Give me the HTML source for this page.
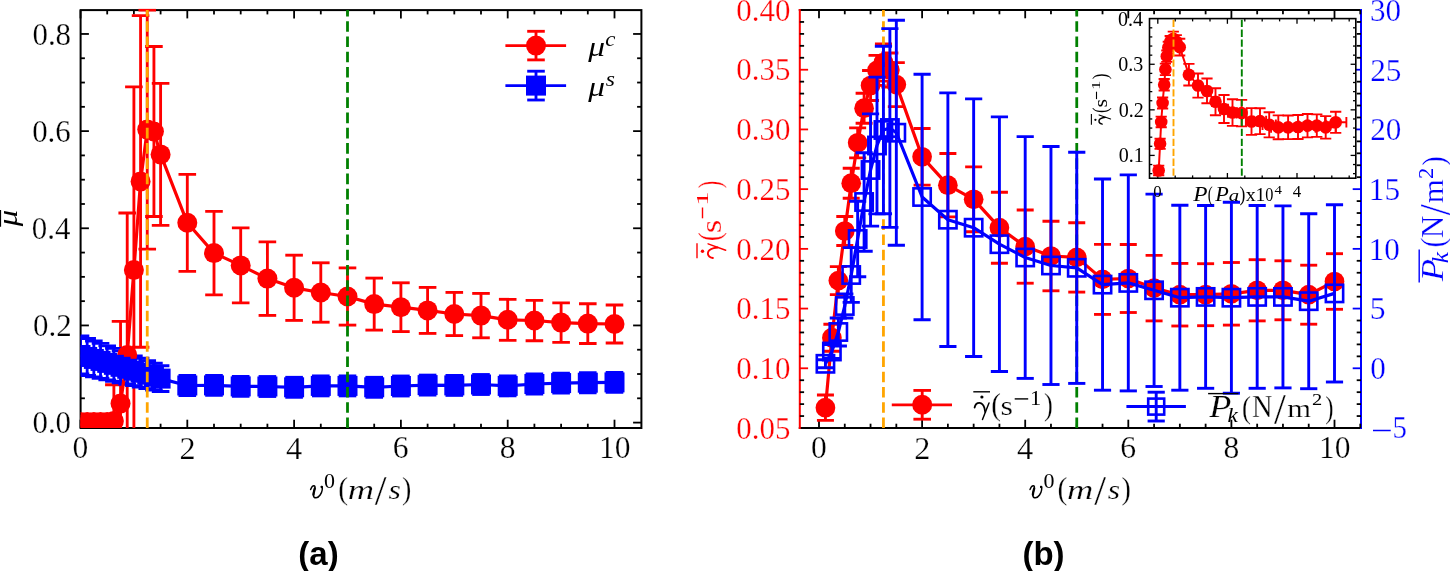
<!DOCTYPE html>
<html><head><meta charset="utf-8"><style>
html,body{margin:0;padding:0;background:#fff;width:1450px;height:571px;overflow:hidden;}
svg{display:block;will-change:transform;}
</style></head><body>
<svg width="1450" height="571" viewBox="0 0 1450 571">
<rect width="1450" height="571" fill="#fff"/>
<rect x="80.6" y="10.1" width="560.8" height="417.9" fill="none" stroke="#000000" stroke-width="2"/>
<line x1="80.5" y1="428" x2="80.5" y2="419.7" stroke="#000000" stroke-width="1.8" />
<line x1="80.5" y1="10.1" x2="80.5" y2="18.4" stroke="#000000" stroke-width="1.8" />
<line x1="107.2" y1="428" x2="107.2" y2="423.7" stroke="#000000" stroke-width="1.8" />
<line x1="107.2" y1="10.1" x2="107.2" y2="14.4" stroke="#000000" stroke-width="1.8" />
<line x1="133.9" y1="428" x2="133.9" y2="423.7" stroke="#000000" stroke-width="1.8" />
<line x1="133.9" y1="10.1" x2="133.9" y2="14.4" stroke="#000000" stroke-width="1.8" />
<line x1="160.6" y1="428" x2="160.6" y2="423.7" stroke="#000000" stroke-width="1.8" />
<line x1="160.6" y1="10.1" x2="160.6" y2="14.4" stroke="#000000" stroke-width="1.8" />
<line x1="187.3" y1="428" x2="187.3" y2="419.7" stroke="#000000" stroke-width="1.8" />
<line x1="187.3" y1="10.1" x2="187.3" y2="18.4" stroke="#000000" stroke-width="1.8" />
<line x1="214" y1="428" x2="214" y2="423.7" stroke="#000000" stroke-width="1.8" />
<line x1="214" y1="10.1" x2="214" y2="14.4" stroke="#000000" stroke-width="1.8" />
<line x1="240.7" y1="428" x2="240.7" y2="423.7" stroke="#000000" stroke-width="1.8" />
<line x1="240.7" y1="10.1" x2="240.7" y2="14.4" stroke="#000000" stroke-width="1.8" />
<line x1="267.4" y1="428" x2="267.4" y2="423.7" stroke="#000000" stroke-width="1.8" />
<line x1="267.4" y1="10.1" x2="267.4" y2="14.4" stroke="#000000" stroke-width="1.8" />
<line x1="294.1" y1="428" x2="294.1" y2="419.7" stroke="#000000" stroke-width="1.8" />
<line x1="294.1" y1="10.1" x2="294.1" y2="18.4" stroke="#000000" stroke-width="1.8" />
<line x1="320.8" y1="428" x2="320.8" y2="423.7" stroke="#000000" stroke-width="1.8" />
<line x1="320.8" y1="10.1" x2="320.8" y2="14.4" stroke="#000000" stroke-width="1.8" />
<line x1="347.5" y1="428" x2="347.5" y2="423.7" stroke="#000000" stroke-width="1.8" />
<line x1="347.5" y1="10.1" x2="347.5" y2="14.4" stroke="#000000" stroke-width="1.8" />
<line x1="374.2" y1="428" x2="374.2" y2="423.7" stroke="#000000" stroke-width="1.8" />
<line x1="374.2" y1="10.1" x2="374.2" y2="14.4" stroke="#000000" stroke-width="1.8" />
<line x1="400.9" y1="428" x2="400.9" y2="419.7" stroke="#000000" stroke-width="1.8" />
<line x1="400.9" y1="10.1" x2="400.9" y2="18.4" stroke="#000000" stroke-width="1.8" />
<line x1="427.6" y1="428" x2="427.6" y2="423.7" stroke="#000000" stroke-width="1.8" />
<line x1="427.6" y1="10.1" x2="427.6" y2="14.4" stroke="#000000" stroke-width="1.8" />
<line x1="454.3" y1="428" x2="454.3" y2="423.7" stroke="#000000" stroke-width="1.8" />
<line x1="454.3" y1="10.1" x2="454.3" y2="14.4" stroke="#000000" stroke-width="1.8" />
<line x1="481" y1="428" x2="481" y2="423.7" stroke="#000000" stroke-width="1.8" />
<line x1="481" y1="10.1" x2="481" y2="14.4" stroke="#000000" stroke-width="1.8" />
<line x1="507.7" y1="428" x2="507.7" y2="419.7" stroke="#000000" stroke-width="1.8" />
<line x1="507.7" y1="10.1" x2="507.7" y2="18.4" stroke="#000000" stroke-width="1.8" />
<line x1="534.4" y1="428" x2="534.4" y2="423.7" stroke="#000000" stroke-width="1.8" />
<line x1="534.4" y1="10.1" x2="534.4" y2="14.4" stroke="#000000" stroke-width="1.8" />
<line x1="561.1" y1="428" x2="561.1" y2="423.7" stroke="#000000" stroke-width="1.8" />
<line x1="561.1" y1="10.1" x2="561.1" y2="14.4" stroke="#000000" stroke-width="1.8" />
<line x1="587.8" y1="428" x2="587.8" y2="423.7" stroke="#000000" stroke-width="1.8" />
<line x1="587.8" y1="10.1" x2="587.8" y2="14.4" stroke="#000000" stroke-width="1.8" />
<line x1="614.5" y1="428" x2="614.5" y2="419.7" stroke="#000000" stroke-width="1.8" />
<line x1="614.5" y1="10.1" x2="614.5" y2="18.4" stroke="#000000" stroke-width="1.8" />
<line x1="80.6" y1="422.6" x2="88.9" y2="422.6" stroke="#000000" stroke-width="1.8" />
<line x1="641.4" y1="422.6" x2="633.1" y2="422.6" stroke="#000000" stroke-width="1.8" />
<line x1="80.6" y1="398.31" x2="84.9" y2="398.31" stroke="#000000" stroke-width="1.8" />
<line x1="641.4" y1="398.31" x2="637.1" y2="398.31" stroke="#000000" stroke-width="1.8" />
<line x1="80.6" y1="374.02" x2="84.9" y2="374.02" stroke="#000000" stroke-width="1.8" />
<line x1="641.4" y1="374.02" x2="637.1" y2="374.02" stroke="#000000" stroke-width="1.8" />
<line x1="80.6" y1="349.73" x2="84.9" y2="349.73" stroke="#000000" stroke-width="1.8" />
<line x1="641.4" y1="349.73" x2="637.1" y2="349.73" stroke="#000000" stroke-width="1.8" />
<line x1="80.6" y1="325.44" x2="88.9" y2="325.44" stroke="#000000" stroke-width="1.8" />
<line x1="641.4" y1="325.44" x2="633.1" y2="325.44" stroke="#000000" stroke-width="1.8" />
<line x1="80.6" y1="301.15" x2="84.9" y2="301.15" stroke="#000000" stroke-width="1.8" />
<line x1="641.4" y1="301.15" x2="637.1" y2="301.15" stroke="#000000" stroke-width="1.8" />
<line x1="80.6" y1="276.86" x2="84.9" y2="276.86" stroke="#000000" stroke-width="1.8" />
<line x1="641.4" y1="276.86" x2="637.1" y2="276.86" stroke="#000000" stroke-width="1.8" />
<line x1="80.6" y1="252.57" x2="84.9" y2="252.57" stroke="#000000" stroke-width="1.8" />
<line x1="641.4" y1="252.57" x2="637.1" y2="252.57" stroke="#000000" stroke-width="1.8" />
<line x1="80.6" y1="228.28" x2="88.9" y2="228.28" stroke="#000000" stroke-width="1.8" />
<line x1="641.4" y1="228.28" x2="633.1" y2="228.28" stroke="#000000" stroke-width="1.8" />
<line x1="80.6" y1="203.99" x2="84.9" y2="203.99" stroke="#000000" stroke-width="1.8" />
<line x1="641.4" y1="203.99" x2="637.1" y2="203.99" stroke="#000000" stroke-width="1.8" />
<line x1="80.6" y1="179.7" x2="84.9" y2="179.7" stroke="#000000" stroke-width="1.8" />
<line x1="641.4" y1="179.7" x2="637.1" y2="179.7" stroke="#000000" stroke-width="1.8" />
<line x1="80.6" y1="155.41" x2="84.9" y2="155.41" stroke="#000000" stroke-width="1.8" />
<line x1="641.4" y1="155.41" x2="637.1" y2="155.41" stroke="#000000" stroke-width="1.8" />
<line x1="80.6" y1="131.12" x2="88.9" y2="131.12" stroke="#000000" stroke-width="1.8" />
<line x1="641.4" y1="131.12" x2="633.1" y2="131.12" stroke="#000000" stroke-width="1.8" />
<line x1="80.6" y1="106.83" x2="84.9" y2="106.83" stroke="#000000" stroke-width="1.8" />
<line x1="641.4" y1="106.83" x2="637.1" y2="106.83" stroke="#000000" stroke-width="1.8" />
<line x1="80.6" y1="82.54" x2="84.9" y2="82.54" stroke="#000000" stroke-width="1.8" />
<line x1="641.4" y1="82.54" x2="637.1" y2="82.54" stroke="#000000" stroke-width="1.8" />
<line x1="80.6" y1="58.25" x2="84.9" y2="58.25" stroke="#000000" stroke-width="1.8" />
<line x1="641.4" y1="58.25" x2="637.1" y2="58.25" stroke="#000000" stroke-width="1.8" />
<line x1="80.6" y1="33.96" x2="88.9" y2="33.96" stroke="#000000" stroke-width="1.8" />
<line x1="641.4" y1="33.96" x2="633.1" y2="33.96" stroke="#000000" stroke-width="1.8" />
<clipPath id="ca"><rect x="80.6" y="8.6" width="560.8" height="419.4"/></clipPath>
<g clip-path="url(#ca)">
<line x1="80.5" y1="419" x2="80.5" y2="425" stroke="#ff0000" stroke-width="2.85" />
<line x1="71.7" y1="419" x2="89.3" y2="419" stroke="#ff0000" stroke-width="2.85" />
<line x1="71.7" y1="425" x2="89.3" y2="425" stroke="#ff0000" stroke-width="2.85" />
<line x1="87.17" y1="419" x2="87.17" y2="425" stroke="#ff0000" stroke-width="2.85" />
<line x1="78.38" y1="419" x2="95.97" y2="419" stroke="#ff0000" stroke-width="2.85" />
<line x1="78.38" y1="425" x2="95.97" y2="425" stroke="#ff0000" stroke-width="2.85" />
<line x1="93.85" y1="419" x2="93.85" y2="425" stroke="#ff0000" stroke-width="2.85" />
<line x1="85.05" y1="419" x2="102.65" y2="419" stroke="#ff0000" stroke-width="2.85" />
<line x1="85.05" y1="425" x2="102.65" y2="425" stroke="#ff0000" stroke-width="2.85" />
<line x1="100.53" y1="419" x2="100.53" y2="425" stroke="#ff0000" stroke-width="2.85" />
<line x1="91.73" y1="419" x2="109.33" y2="419" stroke="#ff0000" stroke-width="2.85" />
<line x1="91.73" y1="425" x2="109.33" y2="425" stroke="#ff0000" stroke-width="2.85" />
<line x1="107.2" y1="419" x2="107.2" y2="425" stroke="#ff0000" stroke-width="2.85" />
<line x1="98.4" y1="419" x2="116" y2="419" stroke="#ff0000" stroke-width="2.85" />
<line x1="98.4" y1="425" x2="116" y2="425" stroke="#ff0000" stroke-width="2.85" />
<line x1="113.88" y1="384.7" x2="113.88" y2="457.3" stroke="#ff0000" stroke-width="2.85" />
<line x1="105.08" y1="384.7" x2="122.67" y2="384.7" stroke="#ff0000" stroke-width="2.85" />
<line x1="105.08" y1="457.3" x2="122.67" y2="457.3" stroke="#ff0000" stroke-width="2.85" />
<line x1="120.55" y1="321.3" x2="120.55" y2="485.7" stroke="#ff0000" stroke-width="2.85" />
<line x1="111.75" y1="321.3" x2="129.35" y2="321.3" stroke="#ff0000" stroke-width="2.85" />
<line x1="111.75" y1="485.7" x2="129.35" y2="485.7" stroke="#ff0000" stroke-width="2.85" />
<line x1="127.22" y1="213" x2="127.22" y2="497" stroke="#ff0000" stroke-width="2.85" />
<line x1="118.42" y1="213" x2="136.03" y2="213" stroke="#ff0000" stroke-width="2.85" />
<line x1="118.42" y1="497" x2="136.03" y2="497" stroke="#ff0000" stroke-width="2.85" />
<line x1="133.9" y1="86.9" x2="133.9" y2="453.1" stroke="#ff0000" stroke-width="2.85" />
<line x1="125.1" y1="86.9" x2="142.7" y2="86.9" stroke="#ff0000" stroke-width="2.85" />
<line x1="125.1" y1="453.1" x2="142.7" y2="453.1" stroke="#ff0000" stroke-width="2.85" />
<line x1="140.57" y1="15.6" x2="140.57" y2="347.2" stroke="#ff0000" stroke-width="2.85" />
<line x1="131.77" y1="15.6" x2="149.38" y2="15.6" stroke="#ff0000" stroke-width="2.85" />
<line x1="131.77" y1="347.2" x2="149.38" y2="347.2" stroke="#ff0000" stroke-width="2.85" />
<line x1="147.25" y1="10.1" x2="147.25" y2="249.1" stroke="#ff0000" stroke-width="2.85" />
<line x1="138.45" y1="10.1" x2="156.05" y2="10.1" stroke="#ff0000" stroke-width="2.85" />
<line x1="138.45" y1="249.1" x2="156.05" y2="249.1" stroke="#ff0000" stroke-width="2.85" />
<line x1="153.93" y1="46.5" x2="153.93" y2="216.5" stroke="#ff0000" stroke-width="2.85" />
<line x1="145.12" y1="46.5" x2="162.73" y2="46.5" stroke="#ff0000" stroke-width="2.85" />
<line x1="145.12" y1="216.5" x2="162.73" y2="216.5" stroke="#ff0000" stroke-width="2.85" />
<line x1="160.6" y1="83.4" x2="160.6" y2="225.4" stroke="#ff0000" stroke-width="2.85" />
<line x1="151.8" y1="83.4" x2="169.4" y2="83.4" stroke="#ff0000" stroke-width="2.85" />
<line x1="151.8" y1="225.4" x2="169.4" y2="225.4" stroke="#ff0000" stroke-width="2.85" />
<line x1="187.3" y1="174.3" x2="187.3" y2="271.3" stroke="#ff0000" stroke-width="2.85" />
<line x1="178.5" y1="174.3" x2="196.1" y2="174.3" stroke="#ff0000" stroke-width="2.85" />
<line x1="178.5" y1="271.3" x2="196.1" y2="271.3" stroke="#ff0000" stroke-width="2.85" />
<line x1="214" y1="211.4" x2="214" y2="294.8" stroke="#ff0000" stroke-width="2.85" />
<line x1="205.2" y1="211.4" x2="222.8" y2="211.4" stroke="#ff0000" stroke-width="2.85" />
<line x1="205.2" y1="294.8" x2="222.8" y2="294.8" stroke="#ff0000" stroke-width="2.85" />
<line x1="240.7" y1="227.9" x2="240.7" y2="302.9" stroke="#ff0000" stroke-width="2.85" />
<line x1="231.9" y1="227.9" x2="249.5" y2="227.9" stroke="#ff0000" stroke-width="2.85" />
<line x1="231.9" y1="302.9" x2="249.5" y2="302.9" stroke="#ff0000" stroke-width="2.85" />
<line x1="267.4" y1="241.8" x2="267.4" y2="315.4" stroke="#ff0000" stroke-width="2.85" />
<line x1="258.6" y1="241.8" x2="276.2" y2="241.8" stroke="#ff0000" stroke-width="2.85" />
<line x1="258.6" y1="315.4" x2="276.2" y2="315.4" stroke="#ff0000" stroke-width="2.85" />
<line x1="294.1" y1="255.2" x2="294.1" y2="320.4" stroke="#ff0000" stroke-width="2.85" />
<line x1="285.3" y1="255.2" x2="302.9" y2="255.2" stroke="#ff0000" stroke-width="2.85" />
<line x1="285.3" y1="320.4" x2="302.9" y2="320.4" stroke="#ff0000" stroke-width="2.85" />
<line x1="320.8" y1="262.8" x2="320.8" y2="322.2" stroke="#ff0000" stroke-width="2.85" />
<line x1="312" y1="262.8" x2="329.6" y2="262.8" stroke="#ff0000" stroke-width="2.85" />
<line x1="312" y1="322.2" x2="329.6" y2="322.2" stroke="#ff0000" stroke-width="2.85" />
<line x1="347.5" y1="267.9" x2="347.5" y2="325.1" stroke="#ff0000" stroke-width="2.85" />
<line x1="338.7" y1="267.9" x2="356.3" y2="267.9" stroke="#ff0000" stroke-width="2.85" />
<line x1="338.7" y1="325.1" x2="356.3" y2="325.1" stroke="#ff0000" stroke-width="2.85" />
<line x1="374.2" y1="278.1" x2="374.2" y2="330.1" stroke="#ff0000" stroke-width="2.85" />
<line x1="365.4" y1="278.1" x2="383" y2="278.1" stroke="#ff0000" stroke-width="2.85" />
<line x1="365.4" y1="330.1" x2="383" y2="330.1" stroke="#ff0000" stroke-width="2.85" />
<line x1="400.9" y1="282.8" x2="400.9" y2="331.6" stroke="#ff0000" stroke-width="2.85" />
<line x1="392.1" y1="282.8" x2="409.7" y2="282.8" stroke="#ff0000" stroke-width="2.85" />
<line x1="392.1" y1="331.6" x2="409.7" y2="331.6" stroke="#ff0000" stroke-width="2.85" />
<line x1="427.6" y1="287.4" x2="427.6" y2="333.4" stroke="#ff0000" stroke-width="2.85" />
<line x1="418.8" y1="287.4" x2="436.4" y2="287.4" stroke="#ff0000" stroke-width="2.85" />
<line x1="418.8" y1="333.4" x2="436.4" y2="333.4" stroke="#ff0000" stroke-width="2.85" />
<line x1="454.3" y1="292.4" x2="454.3" y2="335.6" stroke="#ff0000" stroke-width="2.85" />
<line x1="445.5" y1="292.4" x2="463.1" y2="292.4" stroke="#ff0000" stroke-width="2.85" />
<line x1="445.5" y1="335.6" x2="463.1" y2="335.6" stroke="#ff0000" stroke-width="2.85" />
<line x1="481" y1="293.4" x2="481" y2="337.8" stroke="#ff0000" stroke-width="2.85" />
<line x1="472.2" y1="293.4" x2="489.8" y2="293.4" stroke="#ff0000" stroke-width="2.85" />
<line x1="472.2" y1="337.8" x2="489.8" y2="337.8" stroke="#ff0000" stroke-width="2.85" />
<line x1="507.7" y1="299.3" x2="507.7" y2="340.3" stroke="#ff0000" stroke-width="2.85" />
<line x1="498.9" y1="299.3" x2="516.5" y2="299.3" stroke="#ff0000" stroke-width="2.85" />
<line x1="498.9" y1="340.3" x2="516.5" y2="340.3" stroke="#ff0000" stroke-width="2.85" />
<line x1="534.4" y1="300.3" x2="534.4" y2="340.7" stroke="#ff0000" stroke-width="2.85" />
<line x1="525.6" y1="300.3" x2="543.2" y2="300.3" stroke="#ff0000" stroke-width="2.85" />
<line x1="525.6" y1="340.7" x2="543.2" y2="340.7" stroke="#ff0000" stroke-width="2.85" />
<line x1="561.1" y1="302.9" x2="561.1" y2="342.3" stroke="#ff0000" stroke-width="2.85" />
<line x1="552.3" y1="302.9" x2="569.9" y2="302.9" stroke="#ff0000" stroke-width="2.85" />
<line x1="552.3" y1="342.3" x2="569.9" y2="342.3" stroke="#ff0000" stroke-width="2.85" />
<line x1="587.8" y1="303.7" x2="587.8" y2="343.5" stroke="#ff0000" stroke-width="2.85" />
<line x1="579" y1="303.7" x2="596.6" y2="303.7" stroke="#ff0000" stroke-width="2.85" />
<line x1="579" y1="343.5" x2="596.6" y2="343.5" stroke="#ff0000" stroke-width="2.85" />
<line x1="614.5" y1="305" x2="614.5" y2="343" stroke="#ff0000" stroke-width="2.85" />
<line x1="605.7" y1="305" x2="623.3" y2="305" stroke="#ff0000" stroke-width="2.85" />
<line x1="605.7" y1="343" x2="623.3" y2="343" stroke="#ff0000" stroke-width="2.85" />
<line x1="80.5" y1="336" x2="80.5" y2="374" stroke="#0000ff" stroke-width="2.85" />
<line x1="71.7" y1="336" x2="89.3" y2="336" stroke="#0000ff" stroke-width="2.85" />
<line x1="71.7" y1="374" x2="89.3" y2="374" stroke="#0000ff" stroke-width="2.85" />
<line x1="87.17" y1="338.48" x2="87.17" y2="375.46" stroke="#0000ff" stroke-width="2.85" />
<line x1="78.38" y1="338.48" x2="95.97" y2="338.48" stroke="#0000ff" stroke-width="2.85" />
<line x1="78.38" y1="375.46" x2="95.97" y2="375.46" stroke="#0000ff" stroke-width="2.85" />
<line x1="93.85" y1="340.95" x2="93.85" y2="376.92" stroke="#0000ff" stroke-width="2.85" />
<line x1="85.05" y1="340.95" x2="102.65" y2="340.95" stroke="#0000ff" stroke-width="2.85" />
<line x1="85.05" y1="376.92" x2="102.65" y2="376.92" stroke="#0000ff" stroke-width="2.85" />
<line x1="100.53" y1="343.42" x2="100.53" y2="378.38" stroke="#0000ff" stroke-width="2.85" />
<line x1="91.73" y1="343.42" x2="109.33" y2="343.42" stroke="#0000ff" stroke-width="2.85" />
<line x1="91.73" y1="378.38" x2="109.33" y2="378.38" stroke="#0000ff" stroke-width="2.85" />
<line x1="107.2" y1="345.9" x2="107.2" y2="379.83" stroke="#0000ff" stroke-width="2.85" />
<line x1="98.4" y1="345.9" x2="116" y2="345.9" stroke="#0000ff" stroke-width="2.85" />
<line x1="98.4" y1="379.83" x2="116" y2="379.83" stroke="#0000ff" stroke-width="2.85" />
<line x1="113.88" y1="348.38" x2="113.88" y2="381.29" stroke="#0000ff" stroke-width="2.85" />
<line x1="105.08" y1="348.38" x2="122.67" y2="348.38" stroke="#0000ff" stroke-width="2.85" />
<line x1="105.08" y1="381.29" x2="122.67" y2="381.29" stroke="#0000ff" stroke-width="2.85" />
<line x1="120.55" y1="350.85" x2="120.55" y2="382.75" stroke="#0000ff" stroke-width="2.85" />
<line x1="111.75" y1="350.85" x2="129.35" y2="350.85" stroke="#0000ff" stroke-width="2.85" />
<line x1="111.75" y1="382.75" x2="129.35" y2="382.75" stroke="#0000ff" stroke-width="2.85" />
<line x1="127.22" y1="353.32" x2="127.22" y2="384.21" stroke="#0000ff" stroke-width="2.85" />
<line x1="118.42" y1="353.32" x2="136.03" y2="353.32" stroke="#0000ff" stroke-width="2.85" />
<line x1="118.42" y1="384.21" x2="136.03" y2="384.21" stroke="#0000ff" stroke-width="2.85" />
<line x1="133.9" y1="355.8" x2="133.9" y2="385.67" stroke="#0000ff" stroke-width="2.85" />
<line x1="125.1" y1="355.8" x2="142.7" y2="355.8" stroke="#0000ff" stroke-width="2.85" />
<line x1="125.1" y1="385.67" x2="142.7" y2="385.67" stroke="#0000ff" stroke-width="2.85" />
<line x1="140.57" y1="358.28" x2="140.57" y2="387.13" stroke="#0000ff" stroke-width="2.85" />
<line x1="131.77" y1="358.28" x2="149.38" y2="358.28" stroke="#0000ff" stroke-width="2.85" />
<line x1="131.77" y1="387.13" x2="149.38" y2="387.13" stroke="#0000ff" stroke-width="2.85" />
<line x1="147.25" y1="360.75" x2="147.25" y2="388.58" stroke="#0000ff" stroke-width="2.85" />
<line x1="138.45" y1="360.75" x2="156.05" y2="360.75" stroke="#0000ff" stroke-width="2.85" />
<line x1="138.45" y1="388.58" x2="156.05" y2="388.58" stroke="#0000ff" stroke-width="2.85" />
<line x1="153.93" y1="363.22" x2="153.93" y2="390.04" stroke="#0000ff" stroke-width="2.85" />
<line x1="145.12" y1="363.22" x2="162.73" y2="363.22" stroke="#0000ff" stroke-width="2.85" />
<line x1="145.12" y1="390.04" x2="162.73" y2="390.04" stroke="#0000ff" stroke-width="2.85" />
<line x1="160.6" y1="365.7" x2="160.6" y2="391.5" stroke="#0000ff" stroke-width="2.85" />
<line x1="151.8" y1="365.7" x2="169.4" y2="365.7" stroke="#0000ff" stroke-width="2.85" />
<line x1="151.8" y1="391.5" x2="169.4" y2="391.5" stroke="#0000ff" stroke-width="2.85" />
<line x1="187.3" y1="375.5" x2="187.3" y2="395.5" stroke="#0000ff" stroke-width="2.85" />
<line x1="178.5" y1="375.5" x2="196.1" y2="375.5" stroke="#0000ff" stroke-width="2.85" />
<line x1="178.5" y1="395.5" x2="196.1" y2="395.5" stroke="#0000ff" stroke-width="2.85" />
<line x1="214" y1="375.4" x2="214" y2="395.4" stroke="#0000ff" stroke-width="2.85" />
<line x1="205.2" y1="375.4" x2="222.8" y2="375.4" stroke="#0000ff" stroke-width="2.85" />
<line x1="205.2" y1="395.4" x2="222.8" y2="395.4" stroke="#0000ff" stroke-width="2.85" />
<line x1="240.7" y1="376.4" x2="240.7" y2="396.4" stroke="#0000ff" stroke-width="2.85" />
<line x1="231.9" y1="376.4" x2="249.5" y2="376.4" stroke="#0000ff" stroke-width="2.85" />
<line x1="231.9" y1="396.4" x2="249.5" y2="396.4" stroke="#0000ff" stroke-width="2.85" />
<line x1="267.4" y1="376.5" x2="267.4" y2="396.5" stroke="#0000ff" stroke-width="2.85" />
<line x1="258.6" y1="376.5" x2="276.2" y2="376.5" stroke="#0000ff" stroke-width="2.85" />
<line x1="258.6" y1="396.5" x2="276.2" y2="396.5" stroke="#0000ff" stroke-width="2.85" />
<line x1="294.1" y1="377.3" x2="294.1" y2="397.3" stroke="#0000ff" stroke-width="2.85" />
<line x1="285.3" y1="377.3" x2="302.9" y2="377.3" stroke="#0000ff" stroke-width="2.85" />
<line x1="285.3" y1="397.3" x2="302.9" y2="397.3" stroke="#0000ff" stroke-width="2.85" />
<line x1="320.8" y1="375.9" x2="320.8" y2="395.9" stroke="#0000ff" stroke-width="2.85" />
<line x1="312" y1="375.9" x2="329.6" y2="375.9" stroke="#0000ff" stroke-width="2.85" />
<line x1="312" y1="395.9" x2="329.6" y2="395.9" stroke="#0000ff" stroke-width="2.85" />
<line x1="347.5" y1="375.9" x2="347.5" y2="395.9" stroke="#0000ff" stroke-width="2.85" />
<line x1="338.7" y1="375.9" x2="356.3" y2="375.9" stroke="#0000ff" stroke-width="2.85" />
<line x1="338.7" y1="395.9" x2="356.3" y2="395.9" stroke="#0000ff" stroke-width="2.85" />
<line x1="374.2" y1="377.3" x2="374.2" y2="397.3" stroke="#0000ff" stroke-width="2.85" />
<line x1="365.4" y1="377.3" x2="383" y2="377.3" stroke="#0000ff" stroke-width="2.85" />
<line x1="365.4" y1="397.3" x2="383" y2="397.3" stroke="#0000ff" stroke-width="2.85" />
<line x1="400.9" y1="376" x2="400.9" y2="396" stroke="#0000ff" stroke-width="2.85" />
<line x1="392.1" y1="376" x2="409.7" y2="376" stroke="#0000ff" stroke-width="2.85" />
<line x1="392.1" y1="396" x2="409.7" y2="396" stroke="#0000ff" stroke-width="2.85" />
<line x1="427.6" y1="375.1" x2="427.6" y2="395.1" stroke="#0000ff" stroke-width="2.85" />
<line x1="418.8" y1="375.1" x2="436.4" y2="375.1" stroke="#0000ff" stroke-width="2.85" />
<line x1="418.8" y1="395.1" x2="436.4" y2="395.1" stroke="#0000ff" stroke-width="2.85" />
<line x1="454.3" y1="375.4" x2="454.3" y2="395.4" stroke="#0000ff" stroke-width="2.85" />
<line x1="445.5" y1="375.4" x2="463.1" y2="375.4" stroke="#0000ff" stroke-width="2.85" />
<line x1="445.5" y1="395.4" x2="463.1" y2="395.4" stroke="#0000ff" stroke-width="2.85" />
<line x1="481" y1="374.5" x2="481" y2="394.5" stroke="#0000ff" stroke-width="2.85" />
<line x1="472.2" y1="374.5" x2="489.8" y2="374.5" stroke="#0000ff" stroke-width="2.85" />
<line x1="472.2" y1="394.5" x2="489.8" y2="394.5" stroke="#0000ff" stroke-width="2.85" />
<line x1="507.7" y1="375.9" x2="507.7" y2="395.9" stroke="#0000ff" stroke-width="2.85" />
<line x1="498.9" y1="375.9" x2="516.5" y2="375.9" stroke="#0000ff" stroke-width="2.85" />
<line x1="498.9" y1="395.9" x2="516.5" y2="395.9" stroke="#0000ff" stroke-width="2.85" />
<line x1="534.4" y1="374" x2="534.4" y2="394" stroke="#0000ff" stroke-width="2.85" />
<line x1="525.6" y1="374" x2="543.2" y2="374" stroke="#0000ff" stroke-width="2.85" />
<line x1="525.6" y1="394" x2="543.2" y2="394" stroke="#0000ff" stroke-width="2.85" />
<line x1="561.1" y1="373.1" x2="561.1" y2="393.1" stroke="#0000ff" stroke-width="2.85" />
<line x1="552.3" y1="373.1" x2="569.9" y2="373.1" stroke="#0000ff" stroke-width="2.85" />
<line x1="552.3" y1="393.1" x2="569.9" y2="393.1" stroke="#0000ff" stroke-width="2.85" />
<line x1="587.8" y1="372.7" x2="587.8" y2="392.7" stroke="#0000ff" stroke-width="2.85" />
<line x1="579" y1="372.7" x2="596.6" y2="372.7" stroke="#0000ff" stroke-width="2.85" />
<line x1="579" y1="392.7" x2="596.6" y2="392.7" stroke="#0000ff" stroke-width="2.85" />
<line x1="614.5" y1="372.4" x2="614.5" y2="392.4" stroke="#0000ff" stroke-width="2.85" />
<line x1="605.7" y1="372.4" x2="623.3" y2="372.4" stroke="#0000ff" stroke-width="2.85" />
<line x1="605.7" y1="392.4" x2="623.3" y2="392.4" stroke="#0000ff" stroke-width="2.85" />
<polyline points="80.5,422 87.17,422 93.85,422 100.53,422 107.2,422 113.88,421 120.55,403.5 127.22,355 133.9,270 140.57,181.4 147.25,129.6 153.93,131.5 160.6,154.4 187.3,222.8 214,253.1 240.7,265.4 267.4,278.6 294.1,287.8 320.8,292.5 347.5,296.5 374.2,304.1 400.9,307.2 427.6,310.4 454.3,314 481,315.6 507.7,319.8 534.4,320.5 561.1,322.6 587.8,323.6 614.5,324" fill="none" stroke="#ff0000" stroke-width="3.2" stroke-linejoin="round" />
<circle cx="80.5" cy="422" r="10" fill="#ff0000"/>
<circle cx="87.17" cy="422" r="10" fill="#ff0000"/>
<circle cx="93.85" cy="422" r="10" fill="#ff0000"/>
<circle cx="100.53" cy="422" r="10" fill="#ff0000"/>
<circle cx="107.2" cy="422" r="10" fill="#ff0000"/>
<circle cx="113.88" cy="421" r="10" fill="#ff0000"/>
<circle cx="120.55" cy="403.5" r="10" fill="#ff0000"/>
<circle cx="127.22" cy="355" r="10" fill="#ff0000"/>
<circle cx="133.9" cy="270" r="10" fill="#ff0000"/>
<circle cx="140.57" cy="181.4" r="10" fill="#ff0000"/>
<circle cx="147.25" cy="129.6" r="10" fill="#ff0000"/>
<circle cx="153.93" cy="131.5" r="10" fill="#ff0000"/>
<circle cx="160.6" cy="154.4" r="10" fill="#ff0000"/>
<circle cx="187.3" cy="222.8" r="10" fill="#ff0000"/>
<circle cx="214" cy="253.1" r="10" fill="#ff0000"/>
<circle cx="240.7" cy="265.4" r="10" fill="#ff0000"/>
<circle cx="267.4" cy="278.6" r="10" fill="#ff0000"/>
<circle cx="294.1" cy="287.8" r="10" fill="#ff0000"/>
<circle cx="320.8" cy="292.5" r="10" fill="#ff0000"/>
<circle cx="347.5" cy="296.5" r="10" fill="#ff0000"/>
<circle cx="374.2" cy="304.1" r="10" fill="#ff0000"/>
<circle cx="400.9" cy="307.2" r="10" fill="#ff0000"/>
<circle cx="427.6" cy="310.4" r="10" fill="#ff0000"/>
<circle cx="454.3" cy="314" r="10" fill="#ff0000"/>
<circle cx="481" cy="315.6" r="10" fill="#ff0000"/>
<circle cx="507.7" cy="319.8" r="10" fill="#ff0000"/>
<circle cx="534.4" cy="320.5" r="10" fill="#ff0000"/>
<circle cx="561.1" cy="322.6" r="10" fill="#ff0000"/>
<circle cx="587.8" cy="323.6" r="10" fill="#ff0000"/>
<circle cx="614.5" cy="324" r="10" fill="#ff0000"/>
<polyline points="80.5,355 87.17,356.97 93.85,358.93 100.53,360.9 107.2,362.87 113.88,364.83 120.55,366.8 127.22,368.77 133.9,370.73 140.57,372.7 147.25,374.67 153.93,376.63 160.6,378.6 187.3,385.5 214,385.4 240.7,386.4 267.4,386.5 294.1,387.3 320.8,385.9 347.5,385.9 374.2,387.3 400.9,386 427.6,385.1 454.3,385.4 481,384.5 507.7,385.9 534.4,384 561.1,383.1 587.8,382.7 614.5,382.4" fill="none" stroke="#0000ff" stroke-width="3.2" stroke-linejoin="round" />
<rect x="70.5" y="345" width="20" height="20" fill="#0000ff"/>
<rect x="77.17" y="346.97" width="20" height="20" fill="#0000ff"/>
<rect x="83.85" y="348.93" width="20" height="20" fill="#0000ff"/>
<rect x="90.53" y="350.9" width="20" height="20" fill="#0000ff"/>
<rect x="97.2" y="352.87" width="20" height="20" fill="#0000ff"/>
<rect x="103.88" y="354.83" width="20" height="20" fill="#0000ff"/>
<rect x="110.55" y="356.8" width="20" height="20" fill="#0000ff"/>
<rect x="117.22" y="358.77" width="20" height="20" fill="#0000ff"/>
<rect x="123.9" y="360.73" width="20" height="20" fill="#0000ff"/>
<rect x="130.57" y="362.7" width="20" height="20" fill="#0000ff"/>
<rect x="137.25" y="364.67" width="20" height="20" fill="#0000ff"/>
<rect x="143.93" y="366.63" width="20" height="20" fill="#0000ff"/>
<rect x="150.6" y="368.6" width="20" height="20" fill="#0000ff"/>
<rect x="177.3" y="375.5" width="20" height="20" fill="#0000ff"/>
<rect x="204" y="375.4" width="20" height="20" fill="#0000ff"/>
<rect x="230.7" y="376.4" width="20" height="20" fill="#0000ff"/>
<rect x="257.4" y="376.5" width="20" height="20" fill="#0000ff"/>
<rect x="284.1" y="377.3" width="20" height="20" fill="#0000ff"/>
<rect x="310.8" y="375.9" width="20" height="20" fill="#0000ff"/>
<rect x="337.5" y="375.9" width="20" height="20" fill="#0000ff"/>
<rect x="364.2" y="377.3" width="20" height="20" fill="#0000ff"/>
<rect x="390.9" y="376" width="20" height="20" fill="#0000ff"/>
<rect x="417.6" y="375.1" width="20" height="20" fill="#0000ff"/>
<rect x="444.3" y="375.4" width="20" height="20" fill="#0000ff"/>
<rect x="471" y="374.5" width="20" height="20" fill="#0000ff"/>
<rect x="497.7" y="375.9" width="20" height="20" fill="#0000ff"/>
<rect x="524.4" y="374" width="20" height="20" fill="#0000ff"/>
<rect x="551.1" y="373.1" width="20" height="20" fill="#0000ff"/>
<rect x="577.8" y="372.7" width="20" height="20" fill="#0000ff"/>
<rect x="604.5" y="372.4" width="20" height="20" fill="#0000ff"/>
</g>
<clipPath id="ca2"><rect x="80.6" y="10.1" width="560.8" height="417.9"/></clipPath>
<g clip-path="url(#ca2)">
<line x1="147.25" y1="428" x2="147.25" y2="10.1" stroke="#ffa500" stroke-width="2.8" stroke-dasharray="10.6 4.64"/>
<line x1="347.5" y1="428" x2="347.5" y2="10.1" stroke="#008000" stroke-width="2.8" stroke-dasharray="10.6 4.64"/>
</g>
<text x="72.61" y="458.49" font-family="Liberation Serif, serif" font-style="normal" font-weight="normal" font-size="31.56" fill="#000000" stroke="#fff" stroke-width="0.25" vector-effect="non-scaling-stroke">0</text>
<text x="179.44" y="458.80" font-family="Liberation Serif, serif" font-style="normal" font-weight="normal" font-size="32.17" fill="#000000" stroke="#fff" stroke-width="0.25" vector-effect="non-scaling-stroke">2</text>
<text x="285.95" y="458.80" font-family="Liberation Serif, serif" font-style="normal" font-weight="normal" font-size="32.36" fill="#000000" stroke="#fff" stroke-width="0.25" vector-effect="non-scaling-stroke">4</text>
<text x="392.77" y="458.49" font-family="Liberation Serif, serif" font-style="normal" font-weight="normal" font-size="31.70" fill="#000000" stroke="#fff" stroke-width="0.25" vector-effect="non-scaling-stroke">6</text>
<text x="499.81" y="458.49" font-family="Liberation Serif, serif" font-style="normal" font-weight="normal" font-size="31.56" fill="#000000" stroke="#fff" stroke-width="0.25" vector-effect="non-scaling-stroke">8</text>
<text x="598.93" y="458.49" font-family="Liberation Serif, serif" font-style="normal" font-weight="normal" font-size="31.56" fill="#000000" stroke="#fff" stroke-width="0.25" vector-effect="non-scaling-stroke">10</text>
<text x="32.43" y="433.26" font-family="Liberation Serif, serif" font-style="normal" font-weight="normal" font-size="30.92" fill="#000000" stroke="#fff" stroke-width="0.25" vector-effect="non-scaling-stroke">0.0</text>
<text x="32.96" y="336.10" font-family="Liberation Serif, serif" font-style="normal" font-weight="normal" font-size="30.92" fill="#000000" stroke="#fff" stroke-width="0.25" vector-effect="non-scaling-stroke">0.2</text>
<text x="31.73" y="238.94" font-family="Liberation Serif, serif" font-style="normal" font-weight="normal" font-size="30.92" fill="#000000" stroke="#fff" stroke-width="0.25" vector-effect="non-scaling-stroke">0.4</text>
<text x="32.17" y="141.78" font-family="Liberation Serif, serif" font-style="normal" font-weight="normal" font-size="30.92" fill="#000000" stroke="#fff" stroke-width="0.25" vector-effect="non-scaling-stroke">0.6</text>
<text x="32.43" y="44.62" font-family="Liberation Serif, serif" font-style="normal" font-weight="normal" font-size="30.92" fill="#000000" stroke="#fff" stroke-width="0.25" vector-effect="non-scaling-stroke">0.8</text>
<line x1="505.4" y1="45.6" x2="566.1" y2="45.6" stroke="#ff0000" stroke-width="2.8" />
<line x1="536" y1="31.3" x2="536" y2="59.9" stroke="#ff0000" stroke-width="2.85" />
<line x1="527.2" y1="31.3" x2="544.8" y2="31.3" stroke="#ff0000" stroke-width="2.85" />
<line x1="527.2" y1="59.9" x2="544.8" y2="59.9" stroke="#ff0000" stroke-width="2.85" />
<circle cx="536" cy="45.6" r="10" fill="#ff0000"/>
<line x1="505.4" y1="85.6" x2="566.1" y2="85.6" stroke="#0000ff" stroke-width="2.8" />
<line x1="536" y1="71.2" x2="536" y2="100" stroke="#0000ff" stroke-width="2.85" />
<line x1="527.2" y1="71.2" x2="544.8" y2="71.2" stroke="#0000ff" stroke-width="2.85" />
<line x1="527.2" y1="100" x2="544.8" y2="100" stroke="#0000ff" stroke-width="2.85" />
<rect x="526" y="75.6" width="20" height="20" fill="#0000ff"/>
<text transform="matrix(0.3342 0 0 0.2809 588.23 55.79)" font-family="Liberation Serif, serif" font-style="italic" font-weight="normal" font-size="100" fill="#000000" >μ</text>
<text transform="matrix(0.2287 0 0 0.2017 605.30 45.60)" font-family="Liberation Serif, serif" font-style="italic" font-weight="normal" font-size="100" fill="#000000" >c</text>
<text transform="matrix(0.3342 0 0 0.2809 588.23 95.69)" font-family="Liberation Serif, serif" font-style="italic" font-weight="normal" font-size="100" fill="#000000" >μ</text>
<text transform="matrix(0.2365 0 0 0.2017 605.71 85.70)" font-family="Liberation Serif, serif" font-style="italic" font-weight="normal" font-size="100" fill="#000000" >s</text>
<g transform="matrix(1.0000 0 0 1.0000 309.90 484.40)" fill="none" stroke="#000000" stroke-linecap="round" stroke-linejoin="round"><path d="M0.7,5.2 C1.5,3 2.5,1.3 3.9,1.3 C5.2,1.3 5.3,2.5 4.9,4.2 C4.4,6.2 3.5,8.4 3.5,10.5 C3.5,12.4 4.6,13.4 6.2,13.4 C9.2,13.4 11.9,8.6 12.3,5.6 C12.6,3.6 12.2,2.4 11.5,2.2" stroke-width="1.45" vector-effect="non-scaling-stroke"/><path d="M4.9,4.0 C4.4,6.2 3.6,8.4 3.6,10.4" stroke-width="2.3" vector-effect="non-scaling-stroke"/><circle cx="11.9" cy="2.5" r="1.25" fill="#000000" stroke="none"/></g>
<text transform="matrix(0.2194 0 0 0.2060 324.06 487.90)" font-family="Liberation Serif, serif" font-style="normal" font-weight="normal" font-size="100" fill="#000000" >0</text>
<text transform="matrix(0.2959 0 0 0.3187 338.20 498.51)" font-family="Liberation Serif, serif" font-style="normal" font-weight="normal" font-size="100" fill="#000000" stroke="#fff" stroke-width="0.25" vector-effect="non-scaling-stroke">(</text>
<text transform="matrix(0.3649 0 0 0.2823 347.68 498.50)" font-family="Liberation Serif, serif" font-style="italic" font-weight="normal" font-size="100" fill="#000000" stroke="#fff" stroke-width="0.25" vector-effect="non-scaling-stroke">m</text>
<text transform="matrix(0.4247 0 0 0.4320 374.80 504.88)" font-family="Liberation Serif, serif" font-style="normal" font-weight="normal" font-size="100" fill="#000000" stroke="#fff" stroke-width="0.25" vector-effect="non-scaling-stroke">/</text>
<text transform="matrix(0.3173 0 0 0.2828 388.41 498.52)" font-family="Liberation Serif, serif" font-style="italic" font-weight="normal" font-size="100" fill="#000000" stroke="#fff" stroke-width="0.25" vector-effect="non-scaling-stroke">s</text>
<text transform="matrix(0.2803 0 0 0.3187 402.00 498.51)" font-family="Liberation Serif, serif" font-style="normal" font-weight="normal" font-size="100" fill="#000000" stroke="#fff" stroke-width="0.25" vector-effect="non-scaling-stroke">)</text>
<text transform="rotate(-90) matrix(0.3279 0 0 0.2779 -226.37 17.06)" font-family="Liberation Serif, serif" font-style="italic" font-weight="normal" font-size="100" fill="#000000" >μ</text>
<line x1="0.4" y1="210.1" x2="0.4" y2="226.7" stroke="#000000" stroke-width="1.4" />
<text x="318.5" y="565.3" font-family="Liberation Sans, serif" font-size="33" fill="#000000" text-anchor="middle" font-weight="bold">(a)</text>
<line x1="798.8" y1="10" x2="1362" y2="10" stroke="#000000" stroke-width="2" />
<line x1="798.8" y1="428" x2="1362" y2="428" stroke="#000000" stroke-width="2" />
<line x1="799.8" y1="9" x2="799.8" y2="429" stroke="#ff0000" stroke-width="2" />
<line x1="1361" y1="9" x2="1361" y2="429" stroke="#0000ff" stroke-width="2" />
<line x1="819" y1="428" x2="819" y2="419.7" stroke="#000000" stroke-width="1.8" />
<line x1="819" y1="10" x2="819" y2="18.3" stroke="#000000" stroke-width="1.8" />
<line x1="844.77" y1="428" x2="844.77" y2="423.7" stroke="#000000" stroke-width="1.8" />
<line x1="844.77" y1="10" x2="844.77" y2="14.3" stroke="#000000" stroke-width="1.8" />
<line x1="870.55" y1="428" x2="870.55" y2="423.7" stroke="#000000" stroke-width="1.8" />
<line x1="870.55" y1="10" x2="870.55" y2="14.3" stroke="#000000" stroke-width="1.8" />
<line x1="896.33" y1="428" x2="896.33" y2="423.7" stroke="#000000" stroke-width="1.8" />
<line x1="896.33" y1="10" x2="896.33" y2="14.3" stroke="#000000" stroke-width="1.8" />
<line x1="922.1" y1="428" x2="922.1" y2="419.7" stroke="#000000" stroke-width="1.8" />
<line x1="922.1" y1="10" x2="922.1" y2="18.3" stroke="#000000" stroke-width="1.8" />
<line x1="947.88" y1="428" x2="947.88" y2="423.7" stroke="#000000" stroke-width="1.8" />
<line x1="947.88" y1="10" x2="947.88" y2="14.3" stroke="#000000" stroke-width="1.8" />
<line x1="973.65" y1="428" x2="973.65" y2="423.7" stroke="#000000" stroke-width="1.8" />
<line x1="973.65" y1="10" x2="973.65" y2="14.3" stroke="#000000" stroke-width="1.8" />
<line x1="999.42" y1="428" x2="999.42" y2="423.7" stroke="#000000" stroke-width="1.8" />
<line x1="999.42" y1="10" x2="999.42" y2="14.3" stroke="#000000" stroke-width="1.8" />
<line x1="1025.2" y1="428" x2="1025.2" y2="419.7" stroke="#000000" stroke-width="1.8" />
<line x1="1025.2" y1="10" x2="1025.2" y2="18.3" stroke="#000000" stroke-width="1.8" />
<line x1="1050.97" y1="428" x2="1050.97" y2="423.7" stroke="#000000" stroke-width="1.8" />
<line x1="1050.97" y1="10" x2="1050.97" y2="14.3" stroke="#000000" stroke-width="1.8" />
<line x1="1076.75" y1="428" x2="1076.75" y2="423.7" stroke="#000000" stroke-width="1.8" />
<line x1="1076.75" y1="10" x2="1076.75" y2="14.3" stroke="#000000" stroke-width="1.8" />
<line x1="1102.53" y1="428" x2="1102.53" y2="423.7" stroke="#000000" stroke-width="1.8" />
<line x1="1102.53" y1="10" x2="1102.53" y2="14.3" stroke="#000000" stroke-width="1.8" />
<line x1="1128.3" y1="428" x2="1128.3" y2="419.7" stroke="#000000" stroke-width="1.8" />
<line x1="1128.3" y1="10" x2="1128.3" y2="18.3" stroke="#000000" stroke-width="1.8" />
<line x1="1154.08" y1="428" x2="1154.08" y2="423.7" stroke="#000000" stroke-width="1.8" />
<line x1="1154.08" y1="10" x2="1154.08" y2="14.3" stroke="#000000" stroke-width="1.8" />
<line x1="1179.85" y1="428" x2="1179.85" y2="423.7" stroke="#000000" stroke-width="1.8" />
<line x1="1179.85" y1="10" x2="1179.85" y2="14.3" stroke="#000000" stroke-width="1.8" />
<line x1="1205.62" y1="428" x2="1205.62" y2="423.7" stroke="#000000" stroke-width="1.8" />
<line x1="1205.62" y1="10" x2="1205.62" y2="14.3" stroke="#000000" stroke-width="1.8" />
<line x1="1231.4" y1="428" x2="1231.4" y2="419.7" stroke="#000000" stroke-width="1.8" />
<line x1="1231.4" y1="10" x2="1231.4" y2="18.3" stroke="#000000" stroke-width="1.8" />
<line x1="1257.17" y1="428" x2="1257.17" y2="423.7" stroke="#000000" stroke-width="1.8" />
<line x1="1257.17" y1="10" x2="1257.17" y2="14.3" stroke="#000000" stroke-width="1.8" />
<line x1="1282.95" y1="428" x2="1282.95" y2="423.7" stroke="#000000" stroke-width="1.8" />
<line x1="1282.95" y1="10" x2="1282.95" y2="14.3" stroke="#000000" stroke-width="1.8" />
<line x1="1308.72" y1="428" x2="1308.72" y2="423.7" stroke="#000000" stroke-width="1.8" />
<line x1="1308.72" y1="10" x2="1308.72" y2="14.3" stroke="#000000" stroke-width="1.8" />
<line x1="1334.5" y1="428" x2="1334.5" y2="419.7" stroke="#000000" stroke-width="1.8" />
<line x1="1334.5" y1="10" x2="1334.5" y2="18.3" stroke="#000000" stroke-width="1.8" />
<line x1="1360.28" y1="428" x2="1360.28" y2="423.7" stroke="#000000" stroke-width="1.8" />
<line x1="1360.28" y1="10" x2="1360.28" y2="14.3" stroke="#000000" stroke-width="1.8" />
<line x1="799.8" y1="416.06" x2="804.1" y2="416.06" stroke="#000000" stroke-width="1.8" />
<line x1="799.8" y1="404.12" x2="804.1" y2="404.12" stroke="#000000" stroke-width="1.8" />
<line x1="799.8" y1="392.18" x2="804.1" y2="392.18" stroke="#000000" stroke-width="1.8" />
<line x1="799.8" y1="380.23" x2="804.1" y2="380.23" stroke="#000000" stroke-width="1.8" />
<line x1="799.8" y1="368.29" x2="808.1" y2="368.29" stroke="#ff0000" stroke-width="1.8" />
<line x1="799.8" y1="356.35" x2="804.1" y2="356.35" stroke="#000000" stroke-width="1.8" />
<line x1="799.8" y1="344.4" x2="804.1" y2="344.4" stroke="#000000" stroke-width="1.8" />
<line x1="799.8" y1="332.46" x2="804.1" y2="332.46" stroke="#000000" stroke-width="1.8" />
<line x1="799.8" y1="320.52" x2="804.1" y2="320.52" stroke="#000000" stroke-width="1.8" />
<line x1="799.8" y1="308.57" x2="808.1" y2="308.57" stroke="#ff0000" stroke-width="1.8" />
<line x1="799.8" y1="296.63" x2="804.1" y2="296.63" stroke="#000000" stroke-width="1.8" />
<line x1="799.8" y1="284.69" x2="804.1" y2="284.69" stroke="#000000" stroke-width="1.8" />
<line x1="799.8" y1="272.75" x2="804.1" y2="272.75" stroke="#000000" stroke-width="1.8" />
<line x1="799.8" y1="260.8" x2="804.1" y2="260.8" stroke="#000000" stroke-width="1.8" />
<line x1="799.8" y1="248.86" x2="808.1" y2="248.86" stroke="#ff0000" stroke-width="1.8" />
<line x1="799.8" y1="236.92" x2="804.1" y2="236.92" stroke="#000000" stroke-width="1.8" />
<line x1="799.8" y1="224.97" x2="804.1" y2="224.97" stroke="#000000" stroke-width="1.8" />
<line x1="799.8" y1="213.03" x2="804.1" y2="213.03" stroke="#000000" stroke-width="1.8" />
<line x1="799.8" y1="201.09" x2="804.1" y2="201.09" stroke="#000000" stroke-width="1.8" />
<line x1="799.8" y1="189.15" x2="808.1" y2="189.15" stroke="#ff0000" stroke-width="1.8" />
<line x1="799.8" y1="177.2" x2="804.1" y2="177.2" stroke="#000000" stroke-width="1.8" />
<line x1="799.8" y1="165.26" x2="804.1" y2="165.26" stroke="#000000" stroke-width="1.8" />
<line x1="799.8" y1="153.32" x2="804.1" y2="153.32" stroke="#000000" stroke-width="1.8" />
<line x1="799.8" y1="141.37" x2="804.1" y2="141.37" stroke="#000000" stroke-width="1.8" />
<line x1="799.8" y1="129.43" x2="808.1" y2="129.43" stroke="#ff0000" stroke-width="1.8" />
<line x1="799.8" y1="117.49" x2="804.1" y2="117.49" stroke="#000000" stroke-width="1.8" />
<line x1="799.8" y1="105.54" x2="804.1" y2="105.54" stroke="#000000" stroke-width="1.8" />
<line x1="799.8" y1="93.6" x2="804.1" y2="93.6" stroke="#000000" stroke-width="1.8" />
<line x1="799.8" y1="81.66" x2="804.1" y2="81.66" stroke="#000000" stroke-width="1.8" />
<line x1="799.8" y1="69.72" x2="808.1" y2="69.72" stroke="#ff0000" stroke-width="1.8" />
<line x1="799.8" y1="57.77" x2="804.1" y2="57.77" stroke="#000000" stroke-width="1.8" />
<line x1="799.8" y1="45.83" x2="804.1" y2="45.83" stroke="#000000" stroke-width="1.8" />
<line x1="799.8" y1="33.89" x2="804.1" y2="33.89" stroke="#000000" stroke-width="1.8" />
<line x1="799.8" y1="21.94" x2="804.1" y2="21.94" stroke="#000000" stroke-width="1.8" />
<line x1="1361" y1="416.06" x2="1356.7" y2="416.06" stroke="#000000" stroke-width="1.8" />
<line x1="1361" y1="404.12" x2="1356.7" y2="404.12" stroke="#000000" stroke-width="1.8" />
<line x1="1361" y1="392.18" x2="1356.7" y2="392.18" stroke="#000000" stroke-width="1.8" />
<line x1="1361" y1="380.23" x2="1356.7" y2="380.23" stroke="#000000" stroke-width="1.8" />
<line x1="1361" y1="368.29" x2="1352.7" y2="368.29" stroke="#0000ff" stroke-width="1.8" />
<line x1="1361" y1="356.35" x2="1356.7" y2="356.35" stroke="#000000" stroke-width="1.8" />
<line x1="1361" y1="344.4" x2="1356.7" y2="344.4" stroke="#000000" stroke-width="1.8" />
<line x1="1361" y1="332.46" x2="1356.7" y2="332.46" stroke="#000000" stroke-width="1.8" />
<line x1="1361" y1="320.52" x2="1356.7" y2="320.52" stroke="#000000" stroke-width="1.8" />
<line x1="1361" y1="308.57" x2="1352.7" y2="308.57" stroke="#0000ff" stroke-width="1.8" />
<line x1="1361" y1="296.63" x2="1356.7" y2="296.63" stroke="#000000" stroke-width="1.8" />
<line x1="1361" y1="284.69" x2="1356.7" y2="284.69" stroke="#000000" stroke-width="1.8" />
<line x1="1361" y1="272.75" x2="1356.7" y2="272.75" stroke="#000000" stroke-width="1.8" />
<line x1="1361" y1="260.8" x2="1356.7" y2="260.8" stroke="#000000" stroke-width="1.8" />
<line x1="1361" y1="248.86" x2="1352.7" y2="248.86" stroke="#0000ff" stroke-width="1.8" />
<line x1="1361" y1="236.92" x2="1356.7" y2="236.92" stroke="#000000" stroke-width="1.8" />
<line x1="1361" y1="224.97" x2="1356.7" y2="224.97" stroke="#000000" stroke-width="1.8" />
<line x1="1361" y1="213.03" x2="1356.7" y2="213.03" stroke="#000000" stroke-width="1.8" />
<line x1="1361" y1="201.09" x2="1356.7" y2="201.09" stroke="#000000" stroke-width="1.8" />
<line x1="1361" y1="189.14" x2="1352.7" y2="189.14" stroke="#0000ff" stroke-width="1.8" />
<line x1="1361" y1="177.2" x2="1356.7" y2="177.2" stroke="#000000" stroke-width="1.8" />
<line x1="1361" y1="165.26" x2="1356.7" y2="165.26" stroke="#000000" stroke-width="1.8" />
<line x1="1361" y1="153.32" x2="1356.7" y2="153.32" stroke="#000000" stroke-width="1.8" />
<line x1="1361" y1="141.37" x2="1356.7" y2="141.37" stroke="#000000" stroke-width="1.8" />
<line x1="1361" y1="129.43" x2="1352.7" y2="129.43" stroke="#0000ff" stroke-width="1.8" />
<line x1="1361" y1="117.49" x2="1356.7" y2="117.49" stroke="#000000" stroke-width="1.8" />
<line x1="1361" y1="105.54" x2="1356.7" y2="105.54" stroke="#000000" stroke-width="1.8" />
<line x1="1361" y1="93.6" x2="1356.7" y2="93.6" stroke="#000000" stroke-width="1.8" />
<line x1="1361" y1="81.66" x2="1356.7" y2="81.66" stroke="#000000" stroke-width="1.8" />
<line x1="1361" y1="69.72" x2="1352.7" y2="69.72" stroke="#0000ff" stroke-width="1.8" />
<line x1="1361" y1="57.77" x2="1356.7" y2="57.77" stroke="#000000" stroke-width="1.8" />
<line x1="1361" y1="45.83" x2="1356.7" y2="45.83" stroke="#000000" stroke-width="1.8" />
<line x1="1361" y1="33.89" x2="1356.7" y2="33.89" stroke="#000000" stroke-width="1.8" />
<line x1="1361" y1="21.94" x2="1356.7" y2="21.94" stroke="#000000" stroke-width="1.8" />
<clipPath id="cb"><rect x="799.8" y="10.0" width="561.2" height="418"/></clipPath>
<g clip-path="url(#cb)">
<line x1="825.44" y1="395" x2="825.44" y2="420.4" stroke="#ff0000" stroke-width="2.85" />
<line x1="816.94" y1="395" x2="833.94" y2="395" stroke="#ff0000" stroke-width="2.85" />
<line x1="816.94" y1="420.4" x2="833.94" y2="420.4" stroke="#ff0000" stroke-width="2.85" />
<line x1="831.89" y1="324.2" x2="831.89" y2="351.2" stroke="#ff0000" stroke-width="2.85" />
<line x1="823.39" y1="324.2" x2="840.39" y2="324.2" stroke="#ff0000" stroke-width="2.85" />
<line x1="823.39" y1="351.2" x2="840.39" y2="351.2" stroke="#ff0000" stroke-width="2.85" />
<line x1="838.33" y1="266.6" x2="838.33" y2="294.6" stroke="#ff0000" stroke-width="2.85" />
<line x1="829.83" y1="266.6" x2="846.83" y2="266.6" stroke="#ff0000" stroke-width="2.85" />
<line x1="829.83" y1="294.6" x2="846.83" y2="294.6" stroke="#ff0000" stroke-width="2.85" />
<line x1="844.77" y1="216.5" x2="844.77" y2="245.5" stroke="#ff0000" stroke-width="2.85" />
<line x1="836.27" y1="216.5" x2="853.27" y2="216.5" stroke="#ff0000" stroke-width="2.85" />
<line x1="836.27" y1="245.5" x2="853.27" y2="245.5" stroke="#ff0000" stroke-width="2.85" />
<line x1="851.22" y1="168.2" x2="851.22" y2="198.2" stroke="#ff0000" stroke-width="2.85" />
<line x1="842.72" y1="168.2" x2="859.72" y2="168.2" stroke="#ff0000" stroke-width="2.85" />
<line x1="842.72" y1="198.2" x2="859.72" y2="198.2" stroke="#ff0000" stroke-width="2.85" />
<line x1="857.66" y1="127.8" x2="857.66" y2="157.8" stroke="#ff0000" stroke-width="2.85" />
<line x1="849.16" y1="127.8" x2="866.16" y2="127.8" stroke="#ff0000" stroke-width="2.85" />
<line x1="849.16" y1="157.8" x2="866.16" y2="157.8" stroke="#ff0000" stroke-width="2.85" />
<line x1="864.11" y1="93.2" x2="864.11" y2="123.2" stroke="#ff0000" stroke-width="2.85" />
<line x1="855.61" y1="93.2" x2="872.61" y2="93.2" stroke="#ff0000" stroke-width="2.85" />
<line x1="855.61" y1="123.2" x2="872.61" y2="123.2" stroke="#ff0000" stroke-width="2.85" />
<line x1="870.55" y1="70.5" x2="870.55" y2="100.5" stroke="#ff0000" stroke-width="2.85" />
<line x1="862.05" y1="70.5" x2="879.05" y2="70.5" stroke="#ff0000" stroke-width="2.85" />
<line x1="862.05" y1="100.5" x2="879.05" y2="100.5" stroke="#ff0000" stroke-width="2.85" />
<line x1="876.99" y1="55.4" x2="876.99" y2="85.4" stroke="#ff0000" stroke-width="2.85" />
<line x1="868.49" y1="55.4" x2="885.49" y2="55.4" stroke="#ff0000" stroke-width="2.85" />
<line x1="868.49" y1="85.4" x2="885.49" y2="85.4" stroke="#ff0000" stroke-width="2.85" />
<line x1="883.44" y1="43.9" x2="883.44" y2="81.1" stroke="#ff0000" stroke-width="2.85" />
<line x1="874.94" y1="43.9" x2="891.94" y2="43.9" stroke="#ff0000" stroke-width="2.85" />
<line x1="874.94" y1="81.1" x2="891.94" y2="81.1" stroke="#ff0000" stroke-width="2.85" />
<line x1="889.88" y1="53" x2="889.88" y2="87" stroke="#ff0000" stroke-width="2.85" />
<line x1="881.38" y1="53" x2="898.38" y2="53" stroke="#ff0000" stroke-width="2.85" />
<line x1="881.38" y1="87" x2="898.38" y2="87" stroke="#ff0000" stroke-width="2.85" />
<line x1="896.33" y1="62.6" x2="896.33" y2="106.6" stroke="#ff0000" stroke-width="2.85" />
<line x1="887.83" y1="62.6" x2="904.83" y2="62.6" stroke="#ff0000" stroke-width="2.85" />
<line x1="887.83" y1="106.6" x2="904.83" y2="106.6" stroke="#ff0000" stroke-width="2.85" />
<line x1="922.1" y1="128.5" x2="922.1" y2="185.1" stroke="#ff0000" stroke-width="2.85" />
<line x1="913.6" y1="128.5" x2="930.6" y2="128.5" stroke="#ff0000" stroke-width="2.85" />
<line x1="913.6" y1="185.1" x2="930.6" y2="185.1" stroke="#ff0000" stroke-width="2.85" />
<line x1="947.88" y1="153.5" x2="947.88" y2="216.9" stroke="#ff0000" stroke-width="2.85" />
<line x1="939.38" y1="153.5" x2="956.38" y2="153.5" stroke="#ff0000" stroke-width="2.85" />
<line x1="939.38" y1="216.9" x2="956.38" y2="216.9" stroke="#ff0000" stroke-width="2.85" />
<line x1="973.65" y1="166.9" x2="973.65" y2="231.7" stroke="#ff0000" stroke-width="2.85" />
<line x1="965.15" y1="166.9" x2="982.15" y2="166.9" stroke="#ff0000" stroke-width="2.85" />
<line x1="965.15" y1="231.7" x2="982.15" y2="231.7" stroke="#ff0000" stroke-width="2.85" />
<line x1="999.42" y1="192.2" x2="999.42" y2="263.2" stroke="#ff0000" stroke-width="2.85" />
<line x1="990.92" y1="192.2" x2="1007.92" y2="192.2" stroke="#ff0000" stroke-width="2.85" />
<line x1="990.92" y1="263.2" x2="1007.92" y2="263.2" stroke="#ff0000" stroke-width="2.85" />
<line x1="1025.2" y1="210" x2="1025.2" y2="283.2" stroke="#ff0000" stroke-width="2.85" />
<line x1="1016.7" y1="210" x2="1033.7" y2="210" stroke="#ff0000" stroke-width="2.85" />
<line x1="1016.7" y1="283.2" x2="1033.7" y2="283.2" stroke="#ff0000" stroke-width="2.85" />
<line x1="1050.97" y1="221.2" x2="1050.97" y2="290.8" stroke="#ff0000" stroke-width="2.85" />
<line x1="1042.47" y1="221.2" x2="1059.47" y2="221.2" stroke="#ff0000" stroke-width="2.85" />
<line x1="1042.47" y1="290.8" x2="1059.47" y2="290.8" stroke="#ff0000" stroke-width="2.85" />
<line x1="1076.75" y1="222.7" x2="1076.75" y2="292.1" stroke="#ff0000" stroke-width="2.85" />
<line x1="1068.25" y1="222.7" x2="1085.25" y2="222.7" stroke="#ff0000" stroke-width="2.85" />
<line x1="1068.25" y1="292.1" x2="1085.25" y2="292.1" stroke="#ff0000" stroke-width="2.85" />
<line x1="1102.53" y1="244.4" x2="1102.53" y2="314.4" stroke="#ff0000" stroke-width="2.85" />
<line x1="1094.03" y1="244.4" x2="1111.03" y2="244.4" stroke="#ff0000" stroke-width="2.85" />
<line x1="1094.03" y1="314.4" x2="1111.03" y2="314.4" stroke="#ff0000" stroke-width="2.85" />
<line x1="1128.3" y1="244.5" x2="1128.3" y2="312.5" stroke="#ff0000" stroke-width="2.85" />
<line x1="1119.8" y1="244.5" x2="1136.8" y2="244.5" stroke="#ff0000" stroke-width="2.85" />
<line x1="1119.8" y1="312.5" x2="1136.8" y2="312.5" stroke="#ff0000" stroke-width="2.85" />
<line x1="1154.08" y1="255.3" x2="1154.08" y2="320.9" stroke="#ff0000" stroke-width="2.85" />
<line x1="1145.58" y1="255.3" x2="1162.58" y2="255.3" stroke="#ff0000" stroke-width="2.85" />
<line x1="1145.58" y1="320.9" x2="1162.58" y2="320.9" stroke="#ff0000" stroke-width="2.85" />
<line x1="1179.85" y1="263.4" x2="1179.85" y2="326" stroke="#ff0000" stroke-width="2.85" />
<line x1="1171.35" y1="263.4" x2="1188.35" y2="263.4" stroke="#ff0000" stroke-width="2.85" />
<line x1="1171.35" y1="326" x2="1188.35" y2="326" stroke="#ff0000" stroke-width="2.85" />
<line x1="1205.62" y1="263.7" x2="1205.62" y2="325.7" stroke="#ff0000" stroke-width="2.85" />
<line x1="1197.12" y1="263.7" x2="1214.12" y2="263.7" stroke="#ff0000" stroke-width="2.85" />
<line x1="1197.12" y1="325.7" x2="1214.12" y2="325.7" stroke="#ff0000" stroke-width="2.85" />
<line x1="1231.4" y1="262.5" x2="1231.4" y2="325.1" stroke="#ff0000" stroke-width="2.85" />
<line x1="1222.9" y1="262.5" x2="1239.9" y2="262.5" stroke="#ff0000" stroke-width="2.85" />
<line x1="1222.9" y1="325.1" x2="1239.9" y2="325.1" stroke="#ff0000" stroke-width="2.85" />
<line x1="1257.17" y1="259.7" x2="1257.17" y2="320.9" stroke="#ff0000" stroke-width="2.85" />
<line x1="1248.67" y1="259.7" x2="1265.67" y2="259.7" stroke="#ff0000" stroke-width="2.85" />
<line x1="1248.67" y1="320.9" x2="1265.67" y2="320.9" stroke="#ff0000" stroke-width="2.85" />
<line x1="1282.95" y1="260.8" x2="1282.95" y2="319.8" stroke="#ff0000" stroke-width="2.85" />
<line x1="1274.45" y1="260.8" x2="1291.45" y2="260.8" stroke="#ff0000" stroke-width="2.85" />
<line x1="1274.45" y1="319.8" x2="1291.45" y2="319.8" stroke="#ff0000" stroke-width="2.85" />
<line x1="1308.72" y1="265.2" x2="1308.72" y2="324.2" stroke="#ff0000" stroke-width="2.85" />
<line x1="1300.22" y1="265.2" x2="1317.22" y2="265.2" stroke="#ff0000" stroke-width="2.85" />
<line x1="1300.22" y1="324.2" x2="1317.22" y2="324.2" stroke="#ff0000" stroke-width="2.85" />
<line x1="1334.5" y1="253.7" x2="1334.5" y2="309.3" stroke="#ff0000" stroke-width="2.85" />
<line x1="1326" y1="253.7" x2="1343" y2="253.7" stroke="#ff0000" stroke-width="2.85" />
<line x1="1326" y1="309.3" x2="1343" y2="309.3" stroke="#ff0000" stroke-width="2.85" />
<polyline points="825.44,407.7 831.89,337.7 838.33,280.6 844.77,231 851.22,183.2 857.66,142.8 864.11,108.2 870.55,85.5 876.99,70.4 883.44,62.5 889.88,70 896.33,84.6 922.1,156.8 947.88,185.2 973.65,199.3 999.42,227.7 1025.2,246.6 1050.97,256 1076.75,257.4 1102.53,279.4 1128.3,278.5 1154.08,288.1 1179.85,294.7 1205.62,294.7 1231.4,293.8 1257.17,290.3 1282.95,290.3 1308.72,294.7 1334.5,281.5" fill="none" stroke="#ff0000" stroke-width="3.2" stroke-linejoin="round" />
<circle cx="825.44" cy="407.7" r="9.85" fill="#ff0000"/>
<circle cx="831.89" cy="337.7" r="9.85" fill="#ff0000"/>
<circle cx="838.33" cy="280.6" r="9.85" fill="#ff0000"/>
<circle cx="844.77" cy="231" r="9.85" fill="#ff0000"/>
<circle cx="851.22" cy="183.2" r="9.85" fill="#ff0000"/>
<circle cx="857.66" cy="142.8" r="9.85" fill="#ff0000"/>
<circle cx="864.11" cy="108.2" r="9.85" fill="#ff0000"/>
<circle cx="870.55" cy="85.5" r="9.85" fill="#ff0000"/>
<circle cx="876.99" cy="70.4" r="9.85" fill="#ff0000"/>
<circle cx="883.44" cy="62.5" r="9.85" fill="#ff0000"/>
<circle cx="889.88" cy="70" r="9.85" fill="#ff0000"/>
<circle cx="896.33" cy="84.6" r="9.85" fill="#ff0000"/>
<circle cx="922.1" cy="156.8" r="9.85" fill="#ff0000"/>
<circle cx="947.88" cy="185.2" r="9.85" fill="#ff0000"/>
<circle cx="973.65" cy="199.3" r="9.85" fill="#ff0000"/>
<circle cx="999.42" cy="227.7" r="9.85" fill="#ff0000"/>
<circle cx="1025.2" cy="246.6" r="9.85" fill="#ff0000"/>
<circle cx="1050.97" cy="256" r="9.85" fill="#ff0000"/>
<circle cx="1076.75" cy="257.4" r="9.85" fill="#ff0000"/>
<circle cx="1102.53" cy="279.4" r="9.85" fill="#ff0000"/>
<circle cx="1128.3" cy="278.5" r="9.85" fill="#ff0000"/>
<circle cx="1154.08" cy="288.1" r="9.85" fill="#ff0000"/>
<circle cx="1179.85" cy="294.7" r="9.85" fill="#ff0000"/>
<circle cx="1205.62" cy="294.7" r="9.85" fill="#ff0000"/>
<circle cx="1231.4" cy="293.8" r="9.85" fill="#ff0000"/>
<circle cx="1257.17" cy="290.3" r="9.85" fill="#ff0000"/>
<circle cx="1282.95" cy="290.3" r="9.85" fill="#ff0000"/>
<circle cx="1308.72" cy="294.7" r="9.85" fill="#ff0000"/>
<circle cx="1334.5" cy="281.5" r="9.85" fill="#ff0000"/>
<line x1="883.44" y1="428" x2="883.44" y2="10" stroke="#ffa500" stroke-width="2.8" stroke-dasharray="10.6 4.64"/>
<line x1="1076.75" y1="428" x2="1076.75" y2="10" stroke="#008000" stroke-width="2.8" stroke-dasharray="10.6 4.64"/>
<line x1="825.44" y1="359.8" x2="825.44" y2="367.8" stroke="#0000ff" stroke-width="2.9" />
<line x1="816.84" y1="359.8" x2="834.04" y2="359.8" stroke="#0000ff" stroke-width="2.9" />
<line x1="816.84" y1="367.8" x2="834.04" y2="367.8" stroke="#0000ff" stroke-width="2.9" />
<line x1="831.89" y1="344.5" x2="831.89" y2="358.5" stroke="#0000ff" stroke-width="2.9" />
<line x1="823.29" y1="344.5" x2="840.49" y2="344.5" stroke="#0000ff" stroke-width="2.9" />
<line x1="823.29" y1="358.5" x2="840.49" y2="358.5" stroke="#0000ff" stroke-width="2.9" />
<line x1="838.33" y1="318" x2="838.33" y2="346" stroke="#0000ff" stroke-width="2.9" />
<line x1="829.73" y1="318" x2="846.93" y2="318" stroke="#0000ff" stroke-width="2.9" />
<line x1="829.73" y1="346" x2="846.93" y2="346" stroke="#0000ff" stroke-width="2.9" />
<line x1="844.77" y1="294" x2="844.77" y2="318" stroke="#0000ff" stroke-width="2.9" />
<line x1="836.17" y1="294" x2="853.38" y2="294" stroke="#0000ff" stroke-width="2.9" />
<line x1="836.17" y1="318" x2="853.38" y2="318" stroke="#0000ff" stroke-width="2.9" />
<line x1="851.22" y1="247.6" x2="851.22" y2="302.4" stroke="#0000ff" stroke-width="2.9" />
<line x1="842.62" y1="247.6" x2="859.82" y2="247.6" stroke="#0000ff" stroke-width="2.9" />
<line x1="842.62" y1="302.4" x2="859.82" y2="302.4" stroke="#0000ff" stroke-width="2.9" />
<line x1="857.66" y1="201.2" x2="857.66" y2="276.8" stroke="#0000ff" stroke-width="2.9" />
<line x1="849.06" y1="201.2" x2="866.26" y2="201.2" stroke="#0000ff" stroke-width="2.9" />
<line x1="849.06" y1="276.8" x2="866.26" y2="276.8" stroke="#0000ff" stroke-width="2.9" />
<line x1="864.11" y1="152.7" x2="864.11" y2="251.3" stroke="#0000ff" stroke-width="2.9" />
<line x1="855.51" y1="152.7" x2="872.71" y2="152.7" stroke="#0000ff" stroke-width="2.9" />
<line x1="855.51" y1="251.3" x2="872.71" y2="251.3" stroke="#0000ff" stroke-width="2.9" />
<line x1="870.55" y1="113.9" x2="870.55" y2="226.1" stroke="#0000ff" stroke-width="2.9" />
<line x1="861.95" y1="113.9" x2="879.15" y2="113.9" stroke="#0000ff" stroke-width="2.9" />
<line x1="861.95" y1="226.1" x2="879.15" y2="226.1" stroke="#0000ff" stroke-width="2.9" />
<line x1="876.99" y1="77.1" x2="876.99" y2="213.9" stroke="#0000ff" stroke-width="2.9" />
<line x1="868.39" y1="77.1" x2="885.59" y2="77.1" stroke="#0000ff" stroke-width="2.9" />
<line x1="868.39" y1="213.9" x2="885.59" y2="213.9" stroke="#0000ff" stroke-width="2.9" />
<line x1="883.44" y1="46.2" x2="883.44" y2="213.8" stroke="#0000ff" stroke-width="2.9" />
<line x1="874.84" y1="46.2" x2="892.04" y2="46.2" stroke="#0000ff" stroke-width="2.9" />
<line x1="874.84" y1="213.8" x2="892.04" y2="213.8" stroke="#0000ff" stroke-width="2.9" />
<line x1="889.88" y1="28.6" x2="889.88" y2="227.4" stroke="#0000ff" stroke-width="2.9" />
<line x1="881.28" y1="28.6" x2="898.48" y2="28.6" stroke="#0000ff" stroke-width="2.9" />
<line x1="881.28" y1="227.4" x2="898.48" y2="227.4" stroke="#0000ff" stroke-width="2.9" />
<line x1="896.33" y1="20.2" x2="896.33" y2="245.2" stroke="#0000ff" stroke-width="2.9" />
<line x1="887.73" y1="20.2" x2="904.93" y2="20.2" stroke="#0000ff" stroke-width="2.9" />
<line x1="887.73" y1="245.2" x2="904.93" y2="245.2" stroke="#0000ff" stroke-width="2.9" />
<line x1="922.1" y1="74.2" x2="922.1" y2="319.8" stroke="#0000ff" stroke-width="2.9" />
<line x1="913.5" y1="74.2" x2="930.7" y2="74.2" stroke="#0000ff" stroke-width="2.9" />
<line x1="913.5" y1="319.8" x2="930.7" y2="319.8" stroke="#0000ff" stroke-width="2.9" />
<line x1="947.88" y1="92.9" x2="947.88" y2="346.5" stroke="#0000ff" stroke-width="2.9" />
<line x1="939.27" y1="92.9" x2="956.48" y2="92.9" stroke="#0000ff" stroke-width="2.9" />
<line x1="939.27" y1="346.5" x2="956.48" y2="346.5" stroke="#0000ff" stroke-width="2.9" />
<line x1="973.65" y1="98.9" x2="973.65" y2="356.5" stroke="#0000ff" stroke-width="2.9" />
<line x1="965.05" y1="98.9" x2="982.25" y2="98.9" stroke="#0000ff" stroke-width="2.9" />
<line x1="965.05" y1="356.5" x2="982.25" y2="356.5" stroke="#0000ff" stroke-width="2.9" />
<line x1="999.42" y1="116.9" x2="999.42" y2="371.5" stroke="#0000ff" stroke-width="2.9" />
<line x1="990.82" y1="116.9" x2="1008.02" y2="116.9" stroke="#0000ff" stroke-width="2.9" />
<line x1="990.82" y1="371.5" x2="1008.02" y2="371.5" stroke="#0000ff" stroke-width="2.9" />
<line x1="1025.2" y1="136.6" x2="1025.2" y2="378.4" stroke="#0000ff" stroke-width="2.9" />
<line x1="1016.6" y1="136.6" x2="1033.8" y2="136.6" stroke="#0000ff" stroke-width="2.9" />
<line x1="1016.6" y1="378.4" x2="1033.8" y2="378.4" stroke="#0000ff" stroke-width="2.9" />
<line x1="1050.97" y1="146.5" x2="1050.97" y2="384.5" stroke="#0000ff" stroke-width="2.9" />
<line x1="1042.38" y1="146.5" x2="1059.57" y2="146.5" stroke="#0000ff" stroke-width="2.9" />
<line x1="1042.38" y1="384.5" x2="1059.57" y2="384.5" stroke="#0000ff" stroke-width="2.9" />
<line x1="1076.75" y1="152.2" x2="1076.75" y2="383.4" stroke="#0000ff" stroke-width="2.9" />
<line x1="1068.15" y1="152.2" x2="1085.35" y2="152.2" stroke="#0000ff" stroke-width="2.9" />
<line x1="1068.15" y1="383.4" x2="1085.35" y2="383.4" stroke="#0000ff" stroke-width="2.9" />
<line x1="1102.53" y1="179" x2="1102.53" y2="390.2" stroke="#0000ff" stroke-width="2.9" />
<line x1="1093.93" y1="179" x2="1111.12" y2="179" stroke="#0000ff" stroke-width="2.9" />
<line x1="1093.93" y1="390.2" x2="1111.12" y2="390.2" stroke="#0000ff" stroke-width="2.9" />
<line x1="1128.3" y1="174.9" x2="1128.3" y2="390.9" stroke="#0000ff" stroke-width="2.9" />
<line x1="1119.7" y1="174.9" x2="1136.9" y2="174.9" stroke="#0000ff" stroke-width="2.9" />
<line x1="1119.7" y1="390.9" x2="1136.9" y2="390.9" stroke="#0000ff" stroke-width="2.9" />
<line x1="1154.08" y1="194.1" x2="1154.08" y2="386.5" stroke="#0000ff" stroke-width="2.9" />
<line x1="1145.48" y1="194.1" x2="1162.67" y2="194.1" stroke="#0000ff" stroke-width="2.9" />
<line x1="1145.48" y1="386.5" x2="1162.67" y2="386.5" stroke="#0000ff" stroke-width="2.9" />
<line x1="1179.85" y1="205.2" x2="1179.85" y2="390.2" stroke="#0000ff" stroke-width="2.9" />
<line x1="1171.25" y1="205.2" x2="1188.45" y2="205.2" stroke="#0000ff" stroke-width="2.9" />
<line x1="1171.25" y1="390.2" x2="1188.45" y2="390.2" stroke="#0000ff" stroke-width="2.9" />
<line x1="1205.62" y1="205.5" x2="1205.62" y2="388.3" stroke="#0000ff" stroke-width="2.9" />
<line x1="1197.03" y1="205.5" x2="1214.22" y2="205.5" stroke="#0000ff" stroke-width="2.9" />
<line x1="1197.03" y1="388.3" x2="1214.22" y2="388.3" stroke="#0000ff" stroke-width="2.9" />
<line x1="1231.4" y1="202.2" x2="1231.4" y2="393.2" stroke="#0000ff" stroke-width="2.9" />
<line x1="1222.8" y1="202.2" x2="1240" y2="202.2" stroke="#0000ff" stroke-width="2.9" />
<line x1="1222.8" y1="393.2" x2="1240" y2="393.2" stroke="#0000ff" stroke-width="2.9" />
<line x1="1257.17" y1="205.5" x2="1257.17" y2="388.3" stroke="#0000ff" stroke-width="2.9" />
<line x1="1248.58" y1="205.5" x2="1265.77" y2="205.5" stroke="#0000ff" stroke-width="2.9" />
<line x1="1248.58" y1="388.3" x2="1265.77" y2="388.3" stroke="#0000ff" stroke-width="2.9" />
<line x1="1282.95" y1="205.9" x2="1282.95" y2="387.9" stroke="#0000ff" stroke-width="2.9" />
<line x1="1274.35" y1="205.9" x2="1291.55" y2="205.9" stroke="#0000ff" stroke-width="2.9" />
<line x1="1274.35" y1="387.9" x2="1291.55" y2="387.9" stroke="#0000ff" stroke-width="2.9" />
<line x1="1308.72" y1="213.7" x2="1308.72" y2="388.7" stroke="#0000ff" stroke-width="2.9" />
<line x1="1300.12" y1="213.7" x2="1317.32" y2="213.7" stroke="#0000ff" stroke-width="2.9" />
<line x1="1300.12" y1="388.7" x2="1317.32" y2="388.7" stroke="#0000ff" stroke-width="2.9" />
<line x1="1334.5" y1="204.8" x2="1334.5" y2="382" stroke="#0000ff" stroke-width="2.9" />
<line x1="1325.9" y1="204.8" x2="1343.1" y2="204.8" stroke="#0000ff" stroke-width="2.9" />
<line x1="1325.9" y1="382" x2="1343.1" y2="382" stroke="#0000ff" stroke-width="2.9" />
<polyline points="825.44,363.8 831.89,351.5 838.33,332 844.77,306 851.22,275 857.66,239 864.11,202 870.55,170 876.99,145.5 883.44,130 889.88,128 896.33,132.7 922.1,197 947.88,219.7 973.65,227.7 999.42,244.2 1025.2,257.5 1050.97,265.5 1076.75,267.8 1102.53,284.6 1128.3,282.9 1154.08,290.3 1179.85,297.7 1205.62,296.9 1231.4,297.7 1257.17,296.9 1282.95,296.9 1308.72,301.2 1334.5,293.4" fill="none" stroke="#0000ff" stroke-width="3.2" stroke-linejoin="round" />
<rect x="816.79" y="355.15" width="17.3" height="17.3" fill="none" stroke="#0000ff" stroke-width="2.6"/>
<rect x="823.24" y="342.85" width="17.3" height="17.3" fill="none" stroke="#0000ff" stroke-width="2.6"/>
<rect x="829.68" y="323.35" width="17.3" height="17.3" fill="none" stroke="#0000ff" stroke-width="2.6"/>
<rect x="836.12" y="297.35" width="17.3" height="17.3" fill="none" stroke="#0000ff" stroke-width="2.6"/>
<rect x="842.57" y="266.35" width="17.3" height="17.3" fill="none" stroke="#0000ff" stroke-width="2.6"/>
<rect x="849.01" y="230.35" width="17.3" height="17.3" fill="none" stroke="#0000ff" stroke-width="2.6"/>
<rect x="855.46" y="193.35" width="17.3" height="17.3" fill="none" stroke="#0000ff" stroke-width="2.6"/>
<rect x="861.9" y="161.35" width="17.3" height="17.3" fill="none" stroke="#0000ff" stroke-width="2.6"/>
<rect x="868.34" y="136.85" width="17.3" height="17.3" fill="none" stroke="#0000ff" stroke-width="2.6"/>
<rect x="874.79" y="121.35" width="17.3" height="17.3" fill="none" stroke="#0000ff" stroke-width="2.6"/>
<rect x="881.23" y="119.35" width="17.3" height="17.3" fill="none" stroke="#0000ff" stroke-width="2.6"/>
<rect x="887.68" y="124.05" width="17.3" height="17.3" fill="none" stroke="#0000ff" stroke-width="2.6"/>
<rect x="913.45" y="188.35" width="17.3" height="17.3" fill="none" stroke="#0000ff" stroke-width="2.6"/>
<rect x="939.23" y="211.05" width="17.3" height="17.3" fill="none" stroke="#0000ff" stroke-width="2.6"/>
<rect x="965" y="219.05" width="17.3" height="17.3" fill="none" stroke="#0000ff" stroke-width="2.6"/>
<rect x="990.77" y="235.55" width="17.3" height="17.3" fill="none" stroke="#0000ff" stroke-width="2.6"/>
<rect x="1016.55" y="248.85" width="17.3" height="17.3" fill="none" stroke="#0000ff" stroke-width="2.6"/>
<rect x="1042.32" y="256.85" width="17.3" height="17.3" fill="none" stroke="#0000ff" stroke-width="2.6"/>
<rect x="1068.1" y="259.15" width="17.3" height="17.3" fill="none" stroke="#0000ff" stroke-width="2.6"/>
<rect x="1093.88" y="275.95" width="17.3" height="17.3" fill="none" stroke="#0000ff" stroke-width="2.6"/>
<rect x="1119.65" y="274.25" width="17.3" height="17.3" fill="none" stroke="#0000ff" stroke-width="2.6"/>
<rect x="1145.42" y="281.65" width="17.3" height="17.3" fill="none" stroke="#0000ff" stroke-width="2.6"/>
<rect x="1171.2" y="289.05" width="17.3" height="17.3" fill="none" stroke="#0000ff" stroke-width="2.6"/>
<rect x="1196.97" y="288.25" width="17.3" height="17.3" fill="none" stroke="#0000ff" stroke-width="2.6"/>
<rect x="1222.75" y="289.05" width="17.3" height="17.3" fill="none" stroke="#0000ff" stroke-width="2.6"/>
<rect x="1248.52" y="288.25" width="17.3" height="17.3" fill="none" stroke="#0000ff" stroke-width="2.6"/>
<rect x="1274.3" y="288.25" width="17.3" height="17.3" fill="none" stroke="#0000ff" stroke-width="2.6"/>
<rect x="1300.07" y="292.55" width="17.3" height="17.3" fill="none" stroke="#0000ff" stroke-width="2.6"/>
<rect x="1325.85" y="284.75" width="17.3" height="17.3" fill="none" stroke="#0000ff" stroke-width="2.6"/>
</g>
<text x="811.11" y="458.49" font-family="Liberation Serif, serif" font-style="normal" font-weight="normal" font-size="31.56" fill="#000000" stroke="#fff" stroke-width="0.25" vector-effect="non-scaling-stroke">0</text>
<text x="914.24" y="458.80" font-family="Liberation Serif, serif" font-style="normal" font-weight="normal" font-size="32.17" fill="#000000" stroke="#fff" stroke-width="0.25" vector-effect="non-scaling-stroke">2</text>
<text x="1017.05" y="458.80" font-family="Liberation Serif, serif" font-style="normal" font-weight="normal" font-size="32.36" fill="#000000" stroke="#fff" stroke-width="0.25" vector-effect="non-scaling-stroke">4</text>
<text x="1120.17" y="458.49" font-family="Liberation Serif, serif" font-style="normal" font-weight="normal" font-size="31.70" fill="#000000" stroke="#fff" stroke-width="0.25" vector-effect="non-scaling-stroke">6</text>
<text x="1223.51" y="458.49" font-family="Liberation Serif, serif" font-style="normal" font-weight="normal" font-size="31.56" fill="#000000" stroke="#fff" stroke-width="0.25" vector-effect="non-scaling-stroke">8</text>
<text x="1318.93" y="458.49" font-family="Liberation Serif, serif" font-style="normal" font-weight="normal" font-size="31.56" fill="#000000" stroke="#fff" stroke-width="0.25" vector-effect="non-scaling-stroke">10</text>
<text x="736.30" y="438.67" font-family="Liberation Serif, serif" font-style="normal" font-weight="normal" font-size="30.92" fill="#ff0000" stroke="#fff" stroke-width="0.25" vector-effect="non-scaling-stroke">0.05</text>
<text x="736.27" y="378.95" font-family="Liberation Serif, serif" font-style="normal" font-weight="normal" font-size="30.92" fill="#ff0000" stroke="#fff" stroke-width="0.25" vector-effect="non-scaling-stroke">0.10</text>
<text x="736.30" y="319.24" font-family="Liberation Serif, serif" font-style="normal" font-weight="normal" font-size="30.92" fill="#ff0000" stroke="#fff" stroke-width="0.25" vector-effect="non-scaling-stroke">0.15</text>
<text x="736.27" y="259.52" font-family="Liberation Serif, serif" font-style="normal" font-weight="normal" font-size="30.92" fill="#ff0000" stroke="#fff" stroke-width="0.25" vector-effect="non-scaling-stroke">0.20</text>
<text x="736.30" y="199.81" font-family="Liberation Serif, serif" font-style="normal" font-weight="normal" font-size="30.92" fill="#ff0000" stroke="#fff" stroke-width="0.25" vector-effect="non-scaling-stroke">0.25</text>
<text x="736.27" y="140.09" font-family="Liberation Serif, serif" font-style="normal" font-weight="normal" font-size="30.92" fill="#ff0000" stroke="#fff" stroke-width="0.25" vector-effect="non-scaling-stroke">0.30</text>
<text x="736.30" y="80.38" font-family="Liberation Serif, serif" font-style="normal" font-weight="normal" font-size="30.92" fill="#ff0000" stroke="#fff" stroke-width="0.25" vector-effect="non-scaling-stroke">0.35</text>
<text x="736.27" y="20.66" font-family="Liberation Serif, serif" font-style="normal" font-weight="normal" font-size="30.92" fill="#ff0000" stroke="#fff" stroke-width="0.25" vector-effect="non-scaling-stroke">0.40</text>
<text x="1370.31" y="379.09" font-family="Liberation Serif, serif" font-style="normal" font-weight="normal" font-size="31.12" fill="#0000ff" stroke="#fff" stroke-width="0.25" vector-effect="non-scaling-stroke">0</text>
<text x="1369.66" y="319.37" font-family="Liberation Serif, serif" font-style="normal" font-weight="normal" font-size="31.60" fill="#0000ff" stroke="#fff" stroke-width="0.25" vector-effect="non-scaling-stroke">5</text>
<text x="1368.76" y="259.66" font-family="Liberation Serif, serif" font-style="normal" font-weight="normal" font-size="31.12" fill="#0000ff" stroke="#fff" stroke-width="0.25" vector-effect="non-scaling-stroke">10</text>
<text x="1368.74" y="199.94" font-family="Liberation Serif, serif" font-style="normal" font-weight="normal" font-size="31.35" fill="#0000ff" stroke="#fff" stroke-width="0.25" vector-effect="non-scaling-stroke">15</text>
<text x="1370.13" y="140.23" font-family="Liberation Serif, serif" font-style="normal" font-weight="normal" font-size="31.12" fill="#0000ff" stroke="#fff" stroke-width="0.25" vector-effect="non-scaling-stroke">20</text>
<text x="1370.13" y="80.51" font-family="Liberation Serif, serif" font-style="normal" font-weight="normal" font-size="31.26" fill="#0000ff" stroke="#fff" stroke-width="0.25" vector-effect="non-scaling-stroke">25</text>
<text x="1370.01" y="20.80" font-family="Liberation Serif, serif" font-style="normal" font-weight="normal" font-size="31.12" fill="#0000ff" stroke="#fff" stroke-width="0.25" vector-effect="non-scaling-stroke">30</text>
<line x1="1373" y1="430.5" x2="1390.7" y2="430.5" stroke="#0000ff" stroke-width="1.5" />
<text transform="matrix(0.2880 0 0 0.3085 1392.43 438.20)" font-family="Liberation Serif, serif" font-style="normal" font-weight="normal" font-size="100" fill="#0000ff" stroke="#fff" stroke-width="0.25" vector-effect="non-scaling-stroke">5</text>
<g transform="matrix(1.0000 0 0 1.0000 1029.30 484.40)" fill="none" stroke="#000000" stroke-linecap="round" stroke-linejoin="round"><path d="M0.7,5.2 C1.5,3 2.5,1.3 3.9,1.3 C5.2,1.3 5.3,2.5 4.9,4.2 C4.4,6.2 3.5,8.4 3.5,10.5 C3.5,12.4 4.6,13.4 6.2,13.4 C9.2,13.4 11.9,8.6 12.3,5.6 C12.6,3.6 12.2,2.4 11.5,2.2" stroke-width="1.45" vector-effect="non-scaling-stroke"/><path d="M4.9,4.0 C4.4,6.2 3.6,8.4 3.6,10.4" stroke-width="2.3" vector-effect="non-scaling-stroke"/><circle cx="11.9" cy="2.5" r="1.25" fill="#000000" stroke="none"/></g>
<text transform="matrix(0.2194 0 0 0.2060 1043.46 487.90)" font-family="Liberation Serif, serif" font-style="normal" font-weight="normal" font-size="100" fill="#000000" >0</text>
<text transform="matrix(0.2959 0 0 0.3187 1057.60 498.51)" font-family="Liberation Serif, serif" font-style="normal" font-weight="normal" font-size="100" fill="#000000" stroke="#fff" stroke-width="0.25" vector-effect="non-scaling-stroke">(</text>
<text transform="matrix(0.3649 0 0 0.2823 1067.08 498.50)" font-family="Liberation Serif, serif" font-style="italic" font-weight="normal" font-size="100" fill="#000000" stroke="#fff" stroke-width="0.25" vector-effect="non-scaling-stroke">m</text>
<text transform="matrix(0.4247 0 0 0.4320 1094.20 504.88)" font-family="Liberation Serif, serif" font-style="normal" font-weight="normal" font-size="100" fill="#000000" stroke="#fff" stroke-width="0.25" vector-effect="non-scaling-stroke">/</text>
<text transform="matrix(0.3173 0 0 0.2828 1107.81 498.52)" font-family="Liberation Serif, serif" font-style="italic" font-weight="normal" font-size="100" fill="#000000" stroke="#fff" stroke-width="0.25" vector-effect="non-scaling-stroke">s</text>
<text transform="matrix(0.2803 0 0 0.3187 1121.40 498.51)" font-family="Liberation Serif, serif" font-style="normal" font-weight="normal" font-size="100" fill="#000000" stroke="#fff" stroke-width="0.25" vector-effect="non-scaling-stroke">)</text>
<text x="1043.5" y="565.3" font-family="Liberation Sans, serif" font-size="33" fill="#000000" text-anchor="middle" font-weight="bold">(b)</text>
<line x1="697" y1="243.3" x2="697" y2="258.3" stroke="#ff0000" stroke-width="1.4" />
<circle cx="702.5" cy="251.3" r="1.7" fill="#ff0000"/>
<g transform="rotate(-90) matrix(0.9587 0 0 0.9613 -258.19 707.81)" fill="none" stroke="#ff0000" stroke-linecap="round"><path d="M0.2,5.3 C0.9,1.6 3.2,0 5.3,0.1 C7.9,0.3 9.5,2.8 10.4,6.2 L11.15,10.3" stroke-width="1.80" vector-effect="non-scaling-stroke"/><path d="M15,0.3 L8.3,18.6" stroke-width="1.44" vector-effect="non-scaling-stroke"/></g>
<text transform="rotate(-90) matrix(0.2725 0 0 0.3066 -241.20 720.47)" font-family="Liberation Serif, serif" font-style="normal" font-weight="normal" font-size="100" fill="#ff0000" stroke="#fff" stroke-width="0.25" vector-effect="non-scaling-stroke">(</text>
<text transform="rotate(-90) matrix(0.3493 0 0 0.2932 -233.13 720.51)" font-family="Liberation Serif, serif" font-style="normal" font-weight="normal" font-size="100" fill="#ff0000" stroke="#fff" stroke-width="0.25" vector-effect="non-scaling-stroke">s</text>
<line x1="702.5" y1="207.5" x2="702.5" y2="218.3" stroke="#ff0000" stroke-width="1.4" />
<text transform="rotate(-90) matrix(0.2840 0 0 0.1636 -205.80 708.30)" font-family="Liberation Serif, serif" font-style="normal" font-weight="normal" font-size="100" fill="#ff0000" >1</text>
<text transform="rotate(-90) matrix(0.2258 0 0 0.3066 -188.23 720.47)" font-family="Liberation Serif, serif" font-style="normal" font-weight="normal" font-size="100" fill="#ff0000" stroke="#fff" stroke-width="0.25" vector-effect="non-scaling-stroke">)</text>
<line x1="1419.2" y1="249.5" x2="1419.2" y2="282.5" stroke="#0000ff" stroke-width="1.4" />
<text transform="rotate(-90) matrix(0.3673 0 0 0.3131 -281.20 1443.20)" font-family="Liberation Serif, serif" font-style="italic" font-weight="normal" font-size="100" fill="#0000ff" stroke="#fff" stroke-width="0.25" vector-effect="non-scaling-stroke">P</text>
<text transform="rotate(-90) matrix(0.2513 0 0 0.2292 -263.32 1447.70)" font-family="Liberation Serif, serif" font-style="italic" font-weight="normal" font-size="100" fill="#0000ff" >k</text>
<text transform="rotate(-90) matrix(0.2959 0 0 0.3275 -247.50 1443.73)" font-family="Liberation Serif, serif" font-style="normal" font-weight="normal" font-size="100" fill="#0000ff" stroke="#fff" stroke-width="0.25" vector-effect="non-scaling-stroke">(</text>
<text transform="rotate(-90) matrix(0.3132 0 0 0.3054 -238.20 1443.20)" font-family="Liberation Serif, serif" font-style="normal" font-weight="normal" font-size="100" fill="#0000ff" stroke="#fff" stroke-width="0.25" vector-effect="non-scaling-stroke">N</text>
<text transform="rotate(-90) matrix(0.3959 0 0 0.4485 -215.30 1450.26)" font-family="Liberation Serif, serif" font-style="normal" font-weight="normal" font-size="100" fill="#0000ff" stroke="#fff" stroke-width="0.25" vector-effect="non-scaling-stroke">/</text>
<text transform="rotate(-90) matrix(0.3090 0 0 0.2844 -203.15 1443.20)" font-family="Liberation Serif, serif" font-style="normal" font-weight="normal" font-size="100" fill="#0000ff" stroke="#fff" stroke-width="0.25" vector-effect="non-scaling-stroke">m</text>
<text transform="rotate(-90) matrix(0.2270 0 0 0.2145 -178.90 1433.20)" font-family="Liberation Serif, serif" font-style="normal" font-weight="normal" font-size="100" fill="#0000ff" >2</text>
<text transform="rotate(-90) matrix(0.2881 0 0 0.3242 -165.73 1443.80)" font-family="Liberation Serif, serif" font-style="normal" font-weight="normal" font-size="100" fill="#0000ff" stroke="#fff" stroke-width="0.25" vector-effect="non-scaling-stroke">)</text>
<line x1="891.8" y1="404.8" x2="952" y2="404.8" stroke="#ff0000" stroke-width="2.8" />
<line x1="922.2" y1="390.4" x2="922.2" y2="419.2" stroke="#ff0000" stroke-width="2.85" />
<line x1="913.4" y1="390.4" x2="931" y2="390.4" stroke="#ff0000" stroke-width="2.85" />
<line x1="913.4" y1="419.2" x2="931" y2="419.2" stroke="#ff0000" stroke-width="2.85" />
<circle cx="922.2" cy="404.8" r="10" fill="#ff0000"/>
<line x1="973.3" y1="391.8" x2="990" y2="391.8" stroke="#000000" stroke-width="1.4" />
<circle cx="981.9" cy="397" r="1.6" fill="#000000"/>
<g transform="matrix(0.9720 0 0 0.9075 974.41 402.71)" fill="none" stroke="#000000" stroke-linecap="round"><path d="M0.2,5.3 C0.9,1.6 3.2,0 5.3,0.1 C7.9,0.3 9.5,2.8 10.4,6.2 L11.15,10.3" stroke-width="1.80" vector-effect="non-scaling-stroke"/><path d="M15,0.3 L8.3,18.6" stroke-width="1.44" vector-effect="non-scaling-stroke"/></g>
<text transform="matrix(0.2920 0 0 0.3198 991.22 415.09)" font-family="Liberation Serif, serif" font-style="normal" font-weight="normal" font-size="100" fill="#000000" stroke="#fff" stroke-width="0.25" vector-effect="non-scaling-stroke">(</text>
<text transform="matrix(0.3205 0 0 0.2828 1000.39 415.22)" font-family="Liberation Serif, serif" font-style="normal" font-weight="normal" font-size="100" fill="#000000" stroke="#fff" stroke-width="0.25" vector-effect="non-scaling-stroke">s</text>
<line x1="1014.7" y1="398.9" x2="1028.2" y2="398.9" stroke="#000000" stroke-width="1.4" />
<text transform="matrix(0.2244 0 0 0.2121 1030.03 405.00)" font-family="Liberation Serif, serif" font-style="normal" font-weight="normal" font-size="100" fill="#000000" >1</text>
<text transform="matrix(0.2648 0 0 0.3198 1043.95 415.09)" font-family="Liberation Serif, serif" font-style="normal" font-weight="normal" font-size="100" fill="#000000" stroke="#fff" stroke-width="0.25" vector-effect="non-scaling-stroke">)</text>
<line x1="1126.4" y1="406.6" x2="1185.9" y2="406.6" stroke="#0000ff" stroke-width="3" />
<line x1="1156.2" y1="392.2" x2="1156.2" y2="421" stroke="#0000ff" stroke-width="2.9" />
<line x1="1147.6" y1="392.2" x2="1164.8" y2="392.2" stroke="#0000ff" stroke-width="2.9" />
<line x1="1147.6" y1="421" x2="1164.8" y2="421" stroke="#0000ff" stroke-width="2.9" />
<rect x="1148.2" y="398.6" width="16" height="16" fill="none" stroke="#0000ff" stroke-width="2.6"/>
<line x1="1208.1" y1="393.6" x2="1238.5" y2="393.6" stroke="#000000" stroke-width="1.4" />
<text transform="matrix(0.3622 0 0 0.3054 1209.19 417.30)" font-family="Liberation Serif, serif" font-style="italic" font-weight="normal" font-size="100" fill="#000000" stroke="#fff" stroke-width="0.25" vector-effect="non-scaling-stroke">P</text>
<text transform="matrix(0.2327 0 0 0.2032 1227.43 421.90)" font-family="Liberation Serif, serif" font-style="italic" font-weight="normal" font-size="100" fill="#000000" >k</text>
<text transform="matrix(0.2687 0 0 0.3209 1241.92 417.77)" font-family="Liberation Serif, serif" font-style="normal" font-weight="normal" font-size="100" fill="#000000" stroke="#fff" stroke-width="0.25" vector-effect="non-scaling-stroke">(</text>
<text transform="matrix(0.2849 0 0 0.3054 1251.88 417.30)" font-family="Liberation Serif, serif" font-style="normal" font-weight="normal" font-size="100" fill="#000000" stroke="#fff" stroke-width="0.25" vector-effect="non-scaling-stroke">N</text>
<text transform="matrix(0.4247 0 0 0.4350 1274.10 424.18)" font-family="Liberation Serif, serif" font-style="normal" font-weight="normal" font-size="100" fill="#000000" stroke="#fff" stroke-width="0.25" vector-effect="non-scaling-stroke">/</text>
<text transform="matrix(0.3063 0 0 0.2419 1287.16 417.30)" font-family="Liberation Serif, serif" font-style="normal" font-weight="normal" font-size="100" fill="#000000" stroke="#fff" stroke-width="0.25" vector-effect="non-scaling-stroke">m</text>
<text transform="matrix(0.2046 0 0 0.1586 1311.90 404.60)" font-family="Liberation Serif, serif" font-style="normal" font-weight="normal" font-size="100" fill="#000000" >2</text>
<text transform="matrix(0.2492 0 0 0.3209 1325.20 417.77)" font-family="Liberation Serif, serif" font-style="normal" font-weight="normal" font-size="100" fill="#000000" stroke="#fff" stroke-width="0.25" vector-effect="non-scaling-stroke">)</text>
<rect x="1149.5" y="18.6" width="206.3" height="159.6" fill="#fff"/>
<rect x="1149.5" y="18.6" width="206.3" height="159.6" fill="none" stroke="#000000" stroke-width="1.6"/>
<line x1="1157.8" y1="178.2" x2="1157.8" y2="173" stroke="#000000" stroke-width="1.3" />
<line x1="1157.8" y1="18.6" x2="1157.8" y2="23.8" stroke="#000000" stroke-width="1.3" />
<line x1="1175.2" y1="178.2" x2="1175.2" y2="175.4" stroke="#000000" stroke-width="1.3" />
<line x1="1175.2" y1="18.6" x2="1175.2" y2="21.4" stroke="#000000" stroke-width="1.3" />
<line x1="1192.6" y1="178.2" x2="1192.6" y2="175.4" stroke="#000000" stroke-width="1.3" />
<line x1="1192.6" y1="18.6" x2="1192.6" y2="21.4" stroke="#000000" stroke-width="1.3" />
<line x1="1210" y1="178.2" x2="1210" y2="175.4" stroke="#000000" stroke-width="1.3" />
<line x1="1210" y1="18.6" x2="1210" y2="21.4" stroke="#000000" stroke-width="1.3" />
<line x1="1227.4" y1="178.2" x2="1227.4" y2="173" stroke="#000000" stroke-width="1.3" />
<line x1="1227.4" y1="18.6" x2="1227.4" y2="23.8" stroke="#000000" stroke-width="1.3" />
<line x1="1244.8" y1="178.2" x2="1244.8" y2="175.4" stroke="#000000" stroke-width="1.3" />
<line x1="1244.8" y1="18.6" x2="1244.8" y2="21.4" stroke="#000000" stroke-width="1.3" />
<line x1="1262.2" y1="178.2" x2="1262.2" y2="175.4" stroke="#000000" stroke-width="1.3" />
<line x1="1262.2" y1="18.6" x2="1262.2" y2="21.4" stroke="#000000" stroke-width="1.3" />
<line x1="1279.6" y1="178.2" x2="1279.6" y2="175.4" stroke="#000000" stroke-width="1.3" />
<line x1="1279.6" y1="18.6" x2="1279.6" y2="21.4" stroke="#000000" stroke-width="1.3" />
<line x1="1297" y1="178.2" x2="1297" y2="173" stroke="#000000" stroke-width="1.3" />
<line x1="1297" y1="18.6" x2="1297" y2="23.8" stroke="#000000" stroke-width="1.3" />
<line x1="1314.4" y1="178.2" x2="1314.4" y2="175.4" stroke="#000000" stroke-width="1.3" />
<line x1="1314.4" y1="18.6" x2="1314.4" y2="21.4" stroke="#000000" stroke-width="1.3" />
<line x1="1331.8" y1="178.2" x2="1331.8" y2="175.4" stroke="#000000" stroke-width="1.3" />
<line x1="1331.8" y1="18.6" x2="1331.8" y2="21.4" stroke="#000000" stroke-width="1.3" />
<line x1="1349.2" y1="178.2" x2="1349.2" y2="175.4" stroke="#000000" stroke-width="1.3" />
<line x1="1349.2" y1="18.6" x2="1349.2" y2="21.4" stroke="#000000" stroke-width="1.3" />
<line x1="1149.5" y1="173.64" x2="1152.3" y2="173.64" stroke="#000000" stroke-width="1.3" />
<line x1="1355.8" y1="173.64" x2="1353" y2="173.64" stroke="#000000" stroke-width="1.3" />
<line x1="1149.5" y1="164.53" x2="1152.3" y2="164.53" stroke="#000000" stroke-width="1.3" />
<line x1="1355.8" y1="164.53" x2="1353" y2="164.53" stroke="#000000" stroke-width="1.3" />
<line x1="1149.5" y1="155.41" x2="1154.7" y2="155.41" stroke="#000000" stroke-width="1.3" />
<line x1="1355.8" y1="155.41" x2="1350.6" y2="155.41" stroke="#000000" stroke-width="1.3" />
<line x1="1149.5" y1="146.3" x2="1152.3" y2="146.3" stroke="#000000" stroke-width="1.3" />
<line x1="1355.8" y1="146.3" x2="1353" y2="146.3" stroke="#000000" stroke-width="1.3" />
<line x1="1149.5" y1="137.19" x2="1152.3" y2="137.19" stroke="#000000" stroke-width="1.3" />
<line x1="1355.8" y1="137.19" x2="1353" y2="137.19" stroke="#000000" stroke-width="1.3" />
<line x1="1149.5" y1="128.07" x2="1152.3" y2="128.07" stroke="#000000" stroke-width="1.3" />
<line x1="1355.8" y1="128.07" x2="1353" y2="128.07" stroke="#000000" stroke-width="1.3" />
<line x1="1149.5" y1="118.96" x2="1152.3" y2="118.96" stroke="#000000" stroke-width="1.3" />
<line x1="1355.8" y1="118.96" x2="1353" y2="118.96" stroke="#000000" stroke-width="1.3" />
<line x1="1149.5" y1="109.84" x2="1154.7" y2="109.84" stroke="#000000" stroke-width="1.3" />
<line x1="1355.8" y1="109.84" x2="1350.6" y2="109.84" stroke="#000000" stroke-width="1.3" />
<line x1="1149.5" y1="100.73" x2="1152.3" y2="100.73" stroke="#000000" stroke-width="1.3" />
<line x1="1355.8" y1="100.73" x2="1353" y2="100.73" stroke="#000000" stroke-width="1.3" />
<line x1="1149.5" y1="91.62" x2="1152.3" y2="91.62" stroke="#000000" stroke-width="1.3" />
<line x1="1355.8" y1="91.62" x2="1353" y2="91.62" stroke="#000000" stroke-width="1.3" />
<line x1="1149.5" y1="82.5" x2="1152.3" y2="82.5" stroke="#000000" stroke-width="1.3" />
<line x1="1355.8" y1="82.5" x2="1353" y2="82.5" stroke="#000000" stroke-width="1.3" />
<line x1="1149.5" y1="73.39" x2="1152.3" y2="73.39" stroke="#000000" stroke-width="1.3" />
<line x1="1355.8" y1="73.39" x2="1353" y2="73.39" stroke="#000000" stroke-width="1.3" />
<line x1="1149.5" y1="64.27" x2="1154.7" y2="64.27" stroke="#000000" stroke-width="1.3" />
<line x1="1355.8" y1="64.27" x2="1350.6" y2="64.27" stroke="#000000" stroke-width="1.3" />
<line x1="1149.5" y1="55.16" x2="1152.3" y2="55.16" stroke="#000000" stroke-width="1.3" />
<line x1="1355.8" y1="55.16" x2="1353" y2="55.16" stroke="#000000" stroke-width="1.3" />
<line x1="1149.5" y1="46.05" x2="1152.3" y2="46.05" stroke="#000000" stroke-width="1.3" />
<line x1="1355.8" y1="46.05" x2="1353" y2="46.05" stroke="#000000" stroke-width="1.3" />
<line x1="1149.5" y1="36.93" x2="1152.3" y2="36.93" stroke="#000000" stroke-width="1.3" />
<line x1="1355.8" y1="36.93" x2="1353" y2="36.93" stroke="#000000" stroke-width="1.3" />
<line x1="1149.5" y1="27.82" x2="1152.3" y2="27.82" stroke="#000000" stroke-width="1.3" />
<line x1="1355.8" y1="27.82" x2="1353" y2="27.82" stroke="#000000" stroke-width="1.3" />
<clipPath id="ci"><rect x="1149.5" y="18.6" width="206.3" height="159.6"/></clipPath>
<g clip-path="url(#ci)">
<line x1="1158.7" y1="165.61" x2="1158.7" y2="175.3" stroke="#ff0000" stroke-width="1.9" />
<line x1="1153.1" y1="165.61" x2="1164.3" y2="165.61" stroke="#ff0000" stroke-width="1.9" />
<line x1="1153.1" y1="175.3" x2="1164.3" y2="175.3" stroke="#ff0000" stroke-width="1.9" />
<line x1="1158.65" y1="170.45" x2="1158.75" y2="170.45" stroke="#ff0000" stroke-width="1.9" />
<line x1="1158.75" y1="165.15" x2="1158.75" y2="175.75" stroke="#ff0000" stroke-width="1.9" />
<line x1="1158.65" y1="165.15" x2="1158.65" y2="175.75" stroke="#ff0000" stroke-width="1.9" />
<line x1="1160.1" y1="138.59" x2="1160.1" y2="148.89" stroke="#ff0000" stroke-width="1.9" />
<line x1="1154.5" y1="138.59" x2="1165.7" y2="138.59" stroke="#ff0000" stroke-width="1.9" />
<line x1="1154.5" y1="148.89" x2="1165.7" y2="148.89" stroke="#ff0000" stroke-width="1.9" />
<line x1="1159.96" y1="143.74" x2="1160.24" y2="143.74" stroke="#ff0000" stroke-width="1.9" />
<line x1="1160.24" y1="138.44" x2="1160.24" y2="149.04" stroke="#ff0000" stroke-width="1.9" />
<line x1="1159.96" y1="138.44" x2="1159.96" y2="149.04" stroke="#ff0000" stroke-width="1.9" />
<line x1="1161.2" y1="116.61" x2="1161.2" y2="127.3" stroke="#ff0000" stroke-width="1.9" />
<line x1="1155.6" y1="116.61" x2="1166.8" y2="116.61" stroke="#ff0000" stroke-width="1.9" />
<line x1="1155.6" y1="127.3" x2="1166.8" y2="127.3" stroke="#ff0000" stroke-width="1.9" />
<line x1="1161" y1="121.96" x2="1161.4" y2="121.96" stroke="#ff0000" stroke-width="1.9" />
<line x1="1161.4" y1="116.66" x2="1161.4" y2="127.26" stroke="#ff0000" stroke-width="1.9" />
<line x1="1161" y1="116.66" x2="1161" y2="127.26" stroke="#ff0000" stroke-width="1.9" />
<line x1="1162.6" y1="97.5" x2="1162.6" y2="108.56" stroke="#ff0000" stroke-width="1.9" />
<line x1="1157" y1="97.5" x2="1168.2" y2="97.5" stroke="#ff0000" stroke-width="1.9" />
<line x1="1157" y1="108.56" x2="1168.2" y2="108.56" stroke="#ff0000" stroke-width="1.9" />
<line x1="1162.31" y1="103.03" x2="1162.89" y2="103.03" stroke="#ff0000" stroke-width="1.9" />
<line x1="1162.89" y1="97.73" x2="1162.89" y2="108.33" stroke="#ff0000" stroke-width="1.9" />
<line x1="1162.31" y1="97.73" x2="1162.31" y2="108.33" stroke="#ff0000" stroke-width="1.9" />
<line x1="1164.2" y1="79.07" x2="1164.2" y2="90.52" stroke="#ff0000" stroke-width="1.9" />
<line x1="1158.6" y1="79.07" x2="1169.8" y2="79.07" stroke="#ff0000" stroke-width="1.9" />
<line x1="1158.6" y1="90.52" x2="1169.8" y2="90.52" stroke="#ff0000" stroke-width="1.9" />
<line x1="1163.82" y1="84.79" x2="1164.58" y2="84.79" stroke="#ff0000" stroke-width="1.9" />
<line x1="1164.58" y1="79.49" x2="1164.58" y2="90.09" stroke="#ff0000" stroke-width="1.9" />
<line x1="1163.82" y1="79.49" x2="1163.82" y2="90.09" stroke="#ff0000" stroke-width="1.9" />
<line x1="1165.4" y1="63.65" x2="1165.4" y2="75.1" stroke="#ff0000" stroke-width="1.9" />
<line x1="1159.8" y1="63.65" x2="1171" y2="63.65" stroke="#ff0000" stroke-width="1.9" />
<line x1="1159.8" y1="75.1" x2="1171" y2="75.1" stroke="#ff0000" stroke-width="1.9" />
<line x1="1164.94" y1="69.38" x2="1165.86" y2="69.38" stroke="#ff0000" stroke-width="1.9" />
<line x1="1165.86" y1="64.08" x2="1165.86" y2="74.68" stroke="#ff0000" stroke-width="1.9" />
<line x1="1164.94" y1="64.08" x2="1164.94" y2="74.68" stroke="#ff0000" stroke-width="1.9" />
<line x1="1166.8" y1="50.45" x2="1166.8" y2="61.9" stroke="#ff0000" stroke-width="1.9" />
<line x1="1161.2" y1="50.45" x2="1172.4" y2="50.45" stroke="#ff0000" stroke-width="1.9" />
<line x1="1161.2" y1="61.9" x2="1172.4" y2="61.9" stroke="#ff0000" stroke-width="1.9" />
<line x1="1166.26" y1="56.17" x2="1167.34" y2="56.17" stroke="#ff0000" stroke-width="1.9" />
<line x1="1167.34" y1="50.87" x2="1167.34" y2="61.47" stroke="#ff0000" stroke-width="1.9" />
<line x1="1166.26" y1="50.87" x2="1166.26" y2="61.47" stroke="#ff0000" stroke-width="1.9" />
<line x1="1168.3" y1="41.79" x2="1168.3" y2="53.24" stroke="#ff0000" stroke-width="1.9" />
<line x1="1162.7" y1="41.79" x2="1173.9" y2="41.79" stroke="#ff0000" stroke-width="1.9" />
<line x1="1162.7" y1="53.24" x2="1173.9" y2="53.24" stroke="#ff0000" stroke-width="1.9" />
<line x1="1167.67" y1="47.51" x2="1168.93" y2="47.51" stroke="#ff0000" stroke-width="1.9" />
<line x1="1168.93" y1="42.21" x2="1168.93" y2="52.81" stroke="#ff0000" stroke-width="1.9" />
<line x1="1167.67" y1="42.21" x2="1167.67" y2="52.81" stroke="#ff0000" stroke-width="1.9" />
<line x1="1170.2" y1="36.03" x2="1170.2" y2="47.47" stroke="#ff0000" stroke-width="1.9" />
<line x1="1164.6" y1="36.03" x2="1175.8" y2="36.03" stroke="#ff0000" stroke-width="1.9" />
<line x1="1164.6" y1="47.47" x2="1175.8" y2="47.47" stroke="#ff0000" stroke-width="1.9" />
<line x1="1169.46" y1="41.75" x2="1170.94" y2="41.75" stroke="#ff0000" stroke-width="1.9" />
<line x1="1170.94" y1="36.45" x2="1170.94" y2="47.05" stroke="#ff0000" stroke-width="1.9" />
<line x1="1169.46" y1="36.45" x2="1169.46" y2="47.05" stroke="#ff0000" stroke-width="1.9" />
<line x1="1173.3" y1="31.64" x2="1173.3" y2="45.83" stroke="#ff0000" stroke-width="1.9" />
<line x1="1167.7" y1="31.64" x2="1178.9" y2="31.64" stroke="#ff0000" stroke-width="1.9" />
<line x1="1167.7" y1="45.83" x2="1178.9" y2="45.83" stroke="#ff0000" stroke-width="1.9" />
<line x1="1172.37" y1="38.74" x2="1174.23" y2="38.74" stroke="#ff0000" stroke-width="1.9" />
<line x1="1174.23" y1="33.44" x2="1174.23" y2="44.04" stroke="#ff0000" stroke-width="1.9" />
<line x1="1172.37" y1="33.44" x2="1172.37" y2="44.04" stroke="#ff0000" stroke-width="1.9" />
<line x1="1176.3" y1="35.11" x2="1176.3" y2="48.09" stroke="#ff0000" stroke-width="1.9" />
<line x1="1170.7" y1="35.11" x2="1181.9" y2="35.11" stroke="#ff0000" stroke-width="1.9" />
<line x1="1170.7" y1="48.09" x2="1181.9" y2="48.09" stroke="#ff0000" stroke-width="1.9" />
<line x1="1175.19" y1="41.6" x2="1177.41" y2="41.6" stroke="#ff0000" stroke-width="1.9" />
<line x1="1177.41" y1="36.3" x2="1177.41" y2="46.9" stroke="#ff0000" stroke-width="1.9" />
<line x1="1175.19" y1="36.3" x2="1175.19" y2="46.9" stroke="#ff0000" stroke-width="1.9" />
<line x1="1179.7" y1="38.78" x2="1179.7" y2="55.56" stroke="#ff0000" stroke-width="1.9" />
<line x1="1174.1" y1="38.78" x2="1185.3" y2="38.78" stroke="#ff0000" stroke-width="1.9" />
<line x1="1174.1" y1="55.56" x2="1185.3" y2="55.56" stroke="#ff0000" stroke-width="1.9" />
<line x1="1178.39" y1="47.17" x2="1181.01" y2="47.17" stroke="#ff0000" stroke-width="1.9" />
<line x1="1181.01" y1="41.87" x2="1181.01" y2="52.47" stroke="#ff0000" stroke-width="1.9" />
<line x1="1178.39" y1="41.87" x2="1178.39" y2="52.47" stroke="#ff0000" stroke-width="1.9" />
<line x1="1188.9" y1="63.92" x2="1188.9" y2="85.52" stroke="#ff0000" stroke-width="1.9" />
<line x1="1183.3" y1="63.92" x2="1194.5" y2="63.92" stroke="#ff0000" stroke-width="1.9" />
<line x1="1183.3" y1="85.52" x2="1194.5" y2="85.52" stroke="#ff0000" stroke-width="1.9" />
<line x1="1187.03" y1="74.72" x2="1190.77" y2="74.72" stroke="#ff0000" stroke-width="1.9" />
<line x1="1190.77" y1="69.42" x2="1190.77" y2="80.02" stroke="#ff0000" stroke-width="1.9" />
<line x1="1187.03" y1="69.42" x2="1187.03" y2="80.02" stroke="#ff0000" stroke-width="1.9" />
<line x1="1198" y1="73.46" x2="1198" y2="97.65" stroke="#ff0000" stroke-width="1.9" />
<line x1="1192.4" y1="73.46" x2="1203.6" y2="73.46" stroke="#ff0000" stroke-width="1.9" />
<line x1="1192.4" y1="97.65" x2="1203.6" y2="97.65" stroke="#ff0000" stroke-width="1.9" />
<line x1="1195.59" y1="85.55" x2="1200.41" y2="85.55" stroke="#ff0000" stroke-width="1.9" />
<line x1="1200.41" y1="80.25" x2="1200.41" y2="90.85" stroke="#ff0000" stroke-width="1.9" />
<line x1="1195.59" y1="80.25" x2="1195.59" y2="90.85" stroke="#ff0000" stroke-width="1.9" />
<line x1="1207" y1="78.57" x2="1207" y2="103.3" stroke="#ff0000" stroke-width="1.9" />
<line x1="1201.4" y1="78.57" x2="1212.6" y2="78.57" stroke="#ff0000" stroke-width="1.9" />
<line x1="1201.4" y1="103.3" x2="1212.6" y2="103.3" stroke="#ff0000" stroke-width="1.9" />
<line x1="1204.05" y1="90.93" x2="1209.95" y2="90.93" stroke="#ff0000" stroke-width="1.9" />
<line x1="1209.95" y1="85.63" x2="1209.95" y2="96.23" stroke="#ff0000" stroke-width="1.9" />
<line x1="1204.05" y1="85.63" x2="1204.05" y2="96.23" stroke="#ff0000" stroke-width="1.9" />
<line x1="1215.5" y1="88.23" x2="1215.5" y2="115.32" stroke="#ff0000" stroke-width="1.9" />
<line x1="1209.9" y1="88.23" x2="1221.1" y2="88.23" stroke="#ff0000" stroke-width="1.9" />
<line x1="1209.9" y1="115.32" x2="1221.1" y2="115.32" stroke="#ff0000" stroke-width="1.9" />
<line x1="1212.04" y1="101.77" x2="1218.96" y2="101.77" stroke="#ff0000" stroke-width="1.9" />
<line x1="1218.96" y1="96.47" x2="1218.96" y2="107.07" stroke="#ff0000" stroke-width="1.9" />
<line x1="1212.04" y1="96.47" x2="1212.04" y2="107.07" stroke="#ff0000" stroke-width="1.9" />
<line x1="1224" y1="95.02" x2="1224" y2="122.95" stroke="#ff0000" stroke-width="1.9" />
<line x1="1218.4" y1="95.02" x2="1229.6" y2="95.02" stroke="#ff0000" stroke-width="1.9" />
<line x1="1218.4" y1="122.95" x2="1229.6" y2="122.95" stroke="#ff0000" stroke-width="1.9" />
<line x1="1220.03" y1="108.98" x2="1227.97" y2="108.98" stroke="#ff0000" stroke-width="1.9" />
<line x1="1227.97" y1="103.68" x2="1227.97" y2="114.28" stroke="#ff0000" stroke-width="1.9" />
<line x1="1220.03" y1="103.68" x2="1220.03" y2="114.28" stroke="#ff0000" stroke-width="1.9" />
<line x1="1232.5" y1="99.29" x2="1232.5" y2="125.85" stroke="#ff0000" stroke-width="1.9" />
<line x1="1226.9" y1="99.29" x2="1238.1" y2="99.29" stroke="#ff0000" stroke-width="1.9" />
<line x1="1226.9" y1="125.85" x2="1238.1" y2="125.85" stroke="#ff0000" stroke-width="1.9" />
<line x1="1228.02" y1="112.57" x2="1236.98" y2="112.57" stroke="#ff0000" stroke-width="1.9" />
<line x1="1236.98" y1="107.27" x2="1236.98" y2="117.87" stroke="#ff0000" stroke-width="1.9" />
<line x1="1228.02" y1="107.27" x2="1228.02" y2="117.87" stroke="#ff0000" stroke-width="1.9" />
<line x1="1241.6" y1="99.86" x2="1241.6" y2="126.34" stroke="#ff0000" stroke-width="1.9" />
<line x1="1236" y1="99.86" x2="1247.2" y2="99.86" stroke="#ff0000" stroke-width="1.9" />
<line x1="1236" y1="126.34" x2="1247.2" y2="126.34" stroke="#ff0000" stroke-width="1.9" />
<line x1="1236.57" y1="113.1" x2="1246.63" y2="113.1" stroke="#ff0000" stroke-width="1.9" />
<line x1="1246.63" y1="107.8" x2="1246.63" y2="118.4" stroke="#ff0000" stroke-width="1.9" />
<line x1="1236.57" y1="107.8" x2="1236.57" y2="118.4" stroke="#ff0000" stroke-width="1.9" />
<line x1="1251.5" y1="108.14" x2="1251.5" y2="134.85" stroke="#ff0000" stroke-width="1.9" />
<line x1="1245.9" y1="108.14" x2="1257.1" y2="108.14" stroke="#ff0000" stroke-width="1.9" />
<line x1="1245.9" y1="134.85" x2="1257.1" y2="134.85" stroke="#ff0000" stroke-width="1.9" />
<line x1="1245.88" y1="121.5" x2="1257.12" y2="121.5" stroke="#ff0000" stroke-width="1.9" />
<line x1="1257.12" y1="116.2" x2="1257.12" y2="126.8" stroke="#ff0000" stroke-width="1.9" />
<line x1="1245.88" y1="116.2" x2="1245.88" y2="126.8" stroke="#ff0000" stroke-width="1.9" />
<line x1="1260" y1="108.18" x2="1260" y2="134.13" stroke="#ff0000" stroke-width="1.9" />
<line x1="1254.4" y1="108.18" x2="1265.6" y2="108.18" stroke="#ff0000" stroke-width="1.9" />
<line x1="1254.4" y1="134.13" x2="1265.6" y2="134.13" stroke="#ff0000" stroke-width="1.9" />
<line x1="1253.87" y1="121.15" x2="1266.13" y2="121.15" stroke="#ff0000" stroke-width="1.9" />
<line x1="1266.13" y1="115.85" x2="1266.13" y2="126.45" stroke="#ff0000" stroke-width="1.9" />
<line x1="1253.87" y1="115.85" x2="1253.87" y2="126.45" stroke="#ff0000" stroke-width="1.9" />
<line x1="1269.2" y1="112.3" x2="1269.2" y2="137.33" stroke="#ff0000" stroke-width="1.9" />
<line x1="1263.6" y1="112.3" x2="1274.8" y2="112.3" stroke="#ff0000" stroke-width="1.9" />
<line x1="1263.6" y1="137.33" x2="1274.8" y2="137.33" stroke="#ff0000" stroke-width="1.9" />
<line x1="1262.52" y1="124.82" x2="1275.88" y2="124.82" stroke="#ff0000" stroke-width="1.9" />
<line x1="1275.88" y1="119.52" x2="1275.88" y2="130.12" stroke="#ff0000" stroke-width="1.9" />
<line x1="1262.52" y1="119.52" x2="1262.52" y2="130.12" stroke="#ff0000" stroke-width="1.9" />
<line x1="1278.3" y1="115.39" x2="1278.3" y2="139.28" stroke="#ff0000" stroke-width="1.9" />
<line x1="1272.7" y1="115.39" x2="1283.9" y2="115.39" stroke="#ff0000" stroke-width="1.9" />
<line x1="1272.7" y1="139.28" x2="1283.9" y2="139.28" stroke="#ff0000" stroke-width="1.9" />
<line x1="1271.07" y1="127.34" x2="1285.53" y2="127.34" stroke="#ff0000" stroke-width="1.9" />
<line x1="1285.53" y1="122.04" x2="1285.53" y2="132.64" stroke="#ff0000" stroke-width="1.9" />
<line x1="1271.07" y1="122.04" x2="1271.07" y2="132.64" stroke="#ff0000" stroke-width="1.9" />
<line x1="1288.1" y1="115.51" x2="1288.1" y2="139.16" stroke="#ff0000" stroke-width="1.9" />
<line x1="1282.5" y1="115.51" x2="1293.7" y2="115.51" stroke="#ff0000" stroke-width="1.9" />
<line x1="1282.5" y1="139.16" x2="1293.7" y2="139.16" stroke="#ff0000" stroke-width="1.9" />
<line x1="1280.28" y1="127.34" x2="1295.92" y2="127.34" stroke="#ff0000" stroke-width="1.9" />
<line x1="1295.92" y1="122.04" x2="1295.92" y2="132.64" stroke="#ff0000" stroke-width="1.9" />
<line x1="1280.28" y1="122.04" x2="1280.28" y2="132.64" stroke="#ff0000" stroke-width="1.9" />
<line x1="1298" y1="115.05" x2="1298" y2="138.94" stroke="#ff0000" stroke-width="1.9" />
<line x1="1292.4" y1="115.05" x2="1303.6" y2="115.05" stroke="#ff0000" stroke-width="1.9" />
<line x1="1292.4" y1="138.94" x2="1303.6" y2="138.94" stroke="#ff0000" stroke-width="1.9" />
<line x1="1289.59" y1="126.99" x2="1306.41" y2="126.99" stroke="#ff0000" stroke-width="1.9" />
<line x1="1306.41" y1="121.69" x2="1306.41" y2="132.29" stroke="#ff0000" stroke-width="1.9" />
<line x1="1289.59" y1="121.69" x2="1289.59" y2="132.29" stroke="#ff0000" stroke-width="1.9" />
<line x1="1307.5" y1="113.98" x2="1307.5" y2="137.33" stroke="#ff0000" stroke-width="1.9" />
<line x1="1301.9" y1="113.98" x2="1313.1" y2="113.98" stroke="#ff0000" stroke-width="1.9" />
<line x1="1301.9" y1="137.33" x2="1313.1" y2="137.33" stroke="#ff0000" stroke-width="1.9" />
<line x1="1298.52" y1="125.66" x2="1316.48" y2="125.66" stroke="#ff0000" stroke-width="1.9" />
<line x1="1316.48" y1="120.36" x2="1316.48" y2="130.96" stroke="#ff0000" stroke-width="1.9" />
<line x1="1298.52" y1="120.36" x2="1298.52" y2="130.96" stroke="#ff0000" stroke-width="1.9" />
<line x1="1316.8" y1="114.4" x2="1316.8" y2="136.91" stroke="#ff0000" stroke-width="1.9" />
<line x1="1311.2" y1="114.4" x2="1322.4" y2="114.4" stroke="#ff0000" stroke-width="1.9" />
<line x1="1311.2" y1="136.91" x2="1322.4" y2="136.91" stroke="#ff0000" stroke-width="1.9" />
<line x1="1307.26" y1="125.66" x2="1326.34" y2="125.66" stroke="#ff0000" stroke-width="1.9" />
<line x1="1326.34" y1="120.36" x2="1326.34" y2="130.96" stroke="#ff0000" stroke-width="1.9" />
<line x1="1307.26" y1="120.36" x2="1307.26" y2="130.96" stroke="#ff0000" stroke-width="1.9" />
<line x1="1325.7" y1="116.08" x2="1325.7" y2="138.59" stroke="#ff0000" stroke-width="1.9" />
<line x1="1320.1" y1="116.08" x2="1331.3" y2="116.08" stroke="#ff0000" stroke-width="1.9" />
<line x1="1320.1" y1="138.59" x2="1331.3" y2="138.59" stroke="#ff0000" stroke-width="1.9" />
<line x1="1315.63" y1="127.34" x2="1335.77" y2="127.34" stroke="#ff0000" stroke-width="1.9" />
<line x1="1335.77" y1="122.04" x2="1335.77" y2="132.64" stroke="#ff0000" stroke-width="1.9" />
<line x1="1315.63" y1="122.04" x2="1315.63" y2="132.64" stroke="#ff0000" stroke-width="1.9" />
<line x1="1335.7" y1="111.69" x2="1335.7" y2="132.91" stroke="#ff0000" stroke-width="1.9" />
<line x1="1330.1" y1="111.69" x2="1341.3" y2="111.69" stroke="#ff0000" stroke-width="1.9" />
<line x1="1330.1" y1="132.91" x2="1341.3" y2="132.91" stroke="#ff0000" stroke-width="1.9" />
<line x1="1325.03" y1="122.3" x2="1346.37" y2="122.3" stroke="#ff0000" stroke-width="1.9" />
<line x1="1346.37" y1="117" x2="1346.37" y2="127.6" stroke="#ff0000" stroke-width="1.9" />
<line x1="1325.03" y1="117" x2="1325.03" y2="127.6" stroke="#ff0000" stroke-width="1.9" />
<polyline points="1158.7,170.45 1160.1,143.74 1161.2,121.96 1162.6,103.03 1164.2,84.79 1165.4,69.38 1166.8,56.17 1168.3,47.51 1170.2,41.75 1173.3,38.74 1176.3,41.6 1179.7,47.17 1188.9,74.72 1198,85.55 1207,90.93 1215.5,101.77 1224,108.98 1232.5,112.57 1241.6,113.1 1251.5,121.5 1260,121.15 1269.2,124.82 1278.3,127.34 1288.1,127.34 1298,126.99 1307.5,125.66 1316.8,125.66 1325.7,127.34 1335.7,122.3" fill="none" stroke="#ff0000" stroke-width="2" stroke-linejoin="round" />
<circle cx="1158.7" cy="170.45" r="6.3" fill="#ff0000"/>
<circle cx="1160.1" cy="143.74" r="6.3" fill="#ff0000"/>
<circle cx="1161.2" cy="121.96" r="6.3" fill="#ff0000"/>
<circle cx="1162.6" cy="103.03" r="6.3" fill="#ff0000"/>
<circle cx="1164.2" cy="84.79" r="6.3" fill="#ff0000"/>
<circle cx="1165.4" cy="69.38" r="6.3" fill="#ff0000"/>
<circle cx="1166.8" cy="56.17" r="6.3" fill="#ff0000"/>
<circle cx="1168.3" cy="47.51" r="6.3" fill="#ff0000"/>
<circle cx="1170.2" cy="41.75" r="6.3" fill="#ff0000"/>
<circle cx="1173.3" cy="38.74" r="6.3" fill="#ff0000"/>
<circle cx="1176.3" cy="41.6" r="6.3" fill="#ff0000"/>
<circle cx="1179.7" cy="47.17" r="6.3" fill="#ff0000"/>
<circle cx="1188.9" cy="74.72" r="6.3" fill="#ff0000"/>
<circle cx="1198" cy="85.55" r="6.3" fill="#ff0000"/>
<circle cx="1207" cy="90.93" r="6.3" fill="#ff0000"/>
<circle cx="1215.5" cy="101.77" r="6.3" fill="#ff0000"/>
<circle cx="1224" cy="108.98" r="6.3" fill="#ff0000"/>
<circle cx="1232.5" cy="112.57" r="6.3" fill="#ff0000"/>
<circle cx="1241.6" cy="113.1" r="6.3" fill="#ff0000"/>
<circle cx="1251.5" cy="121.5" r="6.3" fill="#ff0000"/>
<circle cx="1260" cy="121.15" r="6.3" fill="#ff0000"/>
<circle cx="1269.2" cy="124.82" r="6.3" fill="#ff0000"/>
<circle cx="1278.3" cy="127.34" r="6.3" fill="#ff0000"/>
<circle cx="1288.1" cy="127.34" r="6.3" fill="#ff0000"/>
<circle cx="1298" cy="126.99" r="6.3" fill="#ff0000"/>
<circle cx="1307.5" cy="125.66" r="6.3" fill="#ff0000"/>
<circle cx="1316.8" cy="125.66" r="6.3" fill="#ff0000"/>
<circle cx="1325.7" cy="127.34" r="6.3" fill="#ff0000"/>
<circle cx="1335.7" cy="122.3" r="6.3" fill="#ff0000"/>
<line x1="1173.5" y1="19.7" x2="1173.5" y2="183.2" stroke="#ffa500" stroke-width="1.9" stroke-dasharray="7.3 2.62"/>
<line x1="1241.8" y1="19.7" x2="1241.8" y2="183.2" stroke="#008000" stroke-width="1.9" stroke-dasharray="7.3 2.62"/>
</g>
<text x="1118.77" y="162.43" font-family="Liberation Serif, serif" font-style="normal" font-weight="normal" font-size="20.02" fill="#000000" >0.1</text>
<text x="1118.68" y="116.86" font-family="Liberation Serif, serif" font-style="normal" font-weight="normal" font-size="20.02" fill="#000000" >0.2</text>
<text x="1118.35" y="71.29" font-family="Liberation Serif, serif" font-style="normal" font-weight="normal" font-size="20.02" fill="#000000" >0.3</text>
<text x="1117.88" y="25.72" font-family="Liberation Serif, serif" font-style="normal" font-weight="normal" font-size="20.02" fill="#000000" >0.4</text>
<text x="1153.31" y="197.24" font-family="Liberation Serif, serif" font-style="normal" font-weight="normal" font-size="16.75" fill="#000000" >0</text>
<text x="1292.75" y="197.20" font-family="Liberation Serif, serif" font-style="normal" font-weight="normal" font-size="16.86" fill="#000000" >4</text>
<text transform="matrix(0.2336 0 0 0.2001 1193.23 200.90)" font-family="Liberation Serif, serif" font-style="italic" font-weight="normal" font-size="100" fill="#000000" >P</text>
<text transform="matrix(0.1480 0 0 0.2051 1207.65 200.63)" font-family="Liberation Serif, serif" font-style="normal" font-weight="normal" font-size="100" fill="#000000" >(</text>
<text transform="matrix(0.2217 0 0 0.2001 1215.32 200.90)" font-family="Liberation Serif, serif" font-style="italic" font-weight="normal" font-size="100" fill="#000000" >P</text>
<text transform="matrix(0.2080 0 0 0.1726 1228.68 200.72)" font-family="Liberation Serif, serif" font-style="italic" font-weight="normal" font-size="100" fill="#000000" >a</text>
<text transform="matrix(0.1752 0 0 0.2051 1239.44 200.63)" font-family="Liberation Serif, serif" font-style="normal" font-weight="normal" font-size="100" fill="#000000" >)</text>
<text transform="matrix(0.2004 0 0 0.1808 1245.72 200.90)" font-family="Liberation Serif, serif" font-style="normal" font-weight="normal" font-size="100" fill="#000000" >x</text>
<text transform="matrix(0.1960 0 0 0.1939 1255.48 200.90)" font-family="Liberation Serif, serif" font-style="normal" font-weight="normal" font-size="100" fill="#000000" >1</text>
<text transform="matrix(0.1628 0 0 0.1941 1265.28 201.01)" font-family="Liberation Serif, serif" font-style="normal" font-weight="normal" font-size="100" fill="#000000" >0</text>
<text transform="matrix(0.1484 0 0 0.1307 1274.51 193.60)" font-family="Liberation Serif, serif" font-style="normal" font-weight="normal" font-size="100" fill="#000000" >4</text>
<line x1="1091.4" y1="113.9" x2="1091.4" y2="124.7" stroke="#000000" stroke-width="1.1" />
<circle cx="1095.4" cy="119.8" r="1.15" fill="#000000"/>
<g transform="rotate(-90) matrix(0.6220 0 0 0.6306 -124.22 1098.88)" fill="none" stroke="#000000" stroke-linecap="round"><path d="M0.2,5.3 C0.9,1.6 3.2,0 5.3,0.1 C7.9,0.3 9.5,2.8 10.4,6.2 L11.15,10.3" stroke-width="1.30" vector-effect="non-scaling-stroke"/><path d="M15,0.3 L8.3,18.6" stroke-width="1.04" vector-effect="non-scaling-stroke"/></g>
<text transform="rotate(-90) matrix(0.1635 0 0 0.2084 -112.92 1107.46)" font-family="Liberation Serif, serif" font-style="normal" font-weight="normal" font-size="100" fill="#000000" >(</text>
<text transform="rotate(-90) matrix(0.2211 0 0 0.1913 -107.61 1107.01)" font-family="Liberation Serif, serif" font-style="normal" font-weight="normal" font-size="100" fill="#000000" >s</text>
<line x1="1096.5" y1="91.7" x2="1096.5" y2="99.1" stroke="#000000" stroke-width="1.1" />
<text transform="rotate(-90) matrix(0.1790 0 0 0.1197 -89.87 1099.90)" font-family="Liberation Serif, serif" font-style="normal" font-weight="normal" font-size="100" fill="#000000" >1</text>
<text transform="rotate(-90) matrix(0.1752 0 0 0.2140 -79.16 1107.35)" font-family="Liberation Serif, serif" font-style="normal" font-weight="normal" font-size="100" fill="#000000" >)</text>
</svg></body></html>
